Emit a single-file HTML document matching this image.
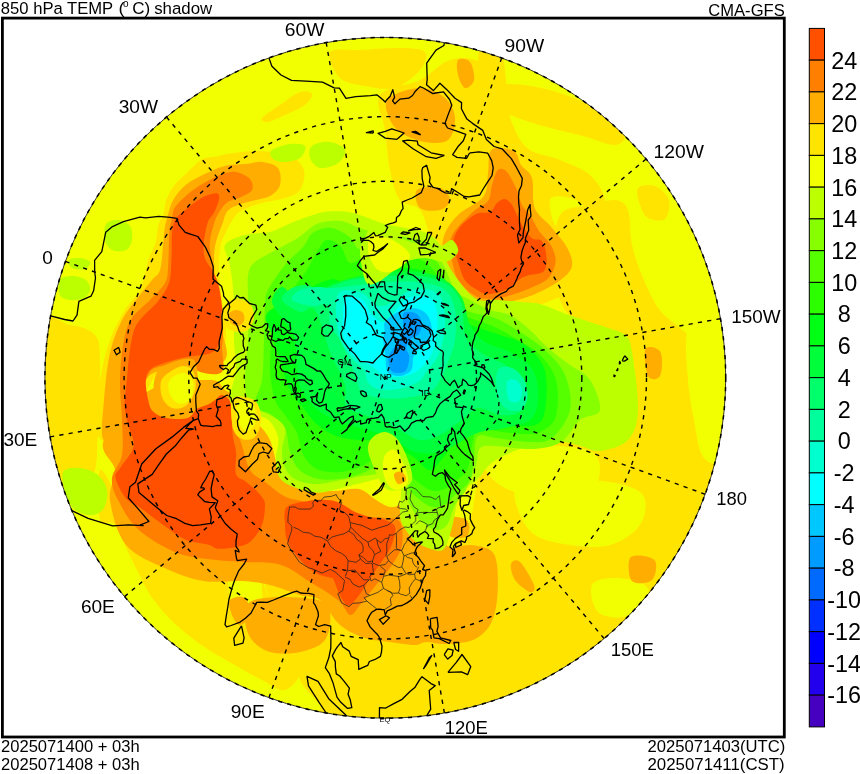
<!DOCTYPE html><html><head><meta charset="utf-8"><style>html,body{margin:0;padding:0;background:#fff;width:860px;height:774px;overflow:hidden}</style></head><body><svg width="860" height="774" viewBox="0 0 860 774" style="position:absolute;left:0;top:0">
<defs><clipPath id="cc"><circle cx="385.3" cy="377.8" r="340.4"/></clipPath></defs>
<g clip-path="url(#cc)">
<circle cx="385.3" cy="377.8" r="342.4" fill="#F2FF00"/>
<path d="M230.0,556.0 C222.7,555.2 249.3,552.7 256.0,560.0 C262.7,567.3 264.3,586.7 270.0,600.0 C275.7,613.3 285.0,626.7 290.0,640.0 C295.0,653.3 295.0,669.2 300.0,680.0 C305.0,690.8 312.5,695.0 320.0,705.0 C327.5,715.0 271.7,734.2 345.0,740.0 C418.3,745.8 690.8,785.0 760.0,740.0 C829.2,695.0 764.2,515.8 760.0,470.0 C755.8,424.2 741.7,470.0 735.0,465.0 C728.3,460.0 725.8,447.5 720.0,440.0 C714.2,432.5 705.0,430.0 700.0,420.0 C695.0,410.0 695.8,392.5 690.0,380.0 C684.2,367.5 673.3,354.2 665.0,345.0 C656.7,335.8 648.8,326.2 640.0,325.0 C631.2,323.8 620.7,333.5 612.0,338.0 C603.3,342.5 595.8,345.0 588.0,352.0 C580.2,359.0 571.3,368.7 565.0,380.0 C558.7,391.3 550.8,410.0 550.0,420.0 C549.2,430.0 551.7,435.0 560.0,440.0 C568.3,445.0 596.5,449.0 600.0,450.0 C603.5,451.0 588.5,447.5 581.0,446.0 C573.5,444.5 563.7,441.0 555.0,441.0 C546.3,441.0 536.8,443.8 529.0,446.0 C521.2,448.2 514.5,451.0 508.0,454.0 C501.5,457.0 495.0,459.7 490.0,464.0 C485.0,468.3 481.3,470.7 478.0,480.0 C474.7,489.3 474.5,508.3 470.0,520.0 C465.5,531.7 457.7,543.3 451.0,550.0 C444.3,556.7 438.5,558.3 430.0,560.0 C421.5,561.7 408.3,559.2 400.0,560.0 C391.7,560.8 396.7,564.2 380.0,565.0 C363.3,565.8 325.0,566.5 300.0,565.0 C275.0,563.5 237.3,556.8 230.0,556.0Z" fill="#FFE400"/>
<path d="M100.0,470.0 C96.7,473.3 97.7,511.0 100.0,520.0 C102.3,529.0 109.2,518.3 114.0,524.0 C118.8,529.7 124.5,545.0 129.0,554.0 C133.5,563.0 137.0,570.5 141.0,578.0 C145.0,585.5 147.5,591.5 153.0,599.0 C158.5,606.5 165.7,615.2 174.0,623.0 C182.3,630.8 193.2,639.2 203.0,646.0 C212.8,652.8 223.2,658.3 233.0,664.0 C242.8,669.7 253.3,675.7 262.0,680.0 C270.7,684.3 278.7,691.7 285.0,690.0 C291.3,688.3 300.0,680.0 300.0,670.0 C300.0,660.0 290.0,641.7 285.0,630.0 C280.0,618.3 274.8,610.0 270.0,600.0 C265.2,590.0 262.7,577.5 256.0,570.0 C249.3,562.5 243.2,557.5 230.0,555.0 C216.8,552.5 192.0,559.2 177.0,555.0 C162.0,550.8 149.5,539.2 140.0,530.0 C130.5,520.8 126.7,510.0 120.0,500.0 C113.3,490.0 103.3,466.7 100.0,470.0Z" fill="#FFE400"/>
<path d="M583.0,272.0 C587.2,265.0 600.5,265.0 610.0,268.0 C619.5,271.0 631.7,281.3 640.0,290.0 C648.3,298.7 651.7,311.7 660.0,320.0 C668.3,328.3 680.8,333.3 690.0,340.0 C699.2,346.7 708.3,353.3 715.0,360.0 C721.7,366.7 725.8,360.0 730.0,380.0 C734.2,400.0 745.0,465.0 740.0,480.0 C735.0,495.0 713.3,475.0 700.0,470.0 C686.7,465.0 670.0,458.3 660.0,450.0 C650.0,441.7 645.0,431.7 640.0,420.0 C635.0,408.3 632.5,392.5 630.0,380.0 C627.5,367.5 630.0,352.5 625.0,345.0 C620.0,337.5 606.7,340.8 600.0,335.0 C593.3,329.2 587.8,320.5 585.0,310.0 C582.2,299.5 578.8,279.0 583.0,272.0Z" fill="#FFE400"/>
<path d="M501.0,85.0 C509.3,82.0 533.7,85.8 550.0,90.0 C566.3,94.2 586.7,102.8 599.0,110.0 C611.3,117.2 621.3,127.2 624.0,133.0 C626.7,138.8 621.8,144.5 615.0,145.0 C608.2,145.5 593.8,138.8 583.0,136.0 C572.2,133.2 560.8,131.0 550.0,128.0 C539.2,125.0 526.3,121.3 518.0,118.0 C509.7,114.7 502.8,113.5 500.0,108.0 C497.2,102.5 492.7,88.0 501.0,85.0Z" fill="#FFE400"/>
<path d="M480.0,50.0 C483.3,45.3 495.7,47.0 500.0,52.0 C504.3,57.0 505.0,69.2 506.0,80.0 C507.0,90.8 508.7,112.0 506.0,117.0 C503.3,122.0 494.3,116.2 490.0,110.0 C485.7,103.8 481.7,90.0 480.0,80.0 C478.3,70.0 476.7,54.7 480.0,50.0Z" fill="#FFE400"/>
<path d="M380.0,95.0 C385.8,86.7 408.3,85.8 420.0,80.0 C431.7,74.2 440.0,63.0 450.0,60.0 C460.0,57.0 471.7,57.0 480.0,62.0 C488.3,67.0 494.2,78.7 500.0,90.0 C505.8,101.3 510.0,120.0 515.0,130.0 C520.0,140.0 522.5,145.0 530.0,150.0 C537.5,155.0 550.0,155.8 560.0,160.0 C570.0,164.2 582.5,168.3 590.0,175.0 C597.5,181.7 603.3,190.8 605.0,200.0 C606.7,209.2 602.2,220.0 600.0,230.0 C597.8,240.0 593.7,251.7 592.0,260.0 C590.3,268.3 593.7,274.7 590.0,280.0 C586.3,285.3 578.3,287.8 570.0,292.0 C561.7,296.2 550.0,301.3 540.0,305.0 C530.0,308.7 520.7,313.5 510.0,314.0 C499.3,314.5 486.0,311.7 476.0,308.0 C466.0,304.3 457.3,298.3 450.0,292.0 C442.7,285.7 435.3,278.7 432.0,270.0 C428.7,261.3 432.0,250.0 430.0,240.0 C428.0,230.0 425.0,216.7 420.0,210.0 C415.0,203.3 405.0,206.7 400.0,200.0 C395.0,193.3 392.5,181.7 390.0,170.0 C387.5,158.3 386.7,142.5 385.0,130.0 C383.3,117.5 374.2,103.3 380.0,95.0Z" fill="#FFE400"/>
<path d="M330.0,52.0 C333.3,47.3 348.3,50.7 360.0,50.0 C371.7,49.3 389.2,47.7 400.0,48.0 C410.8,48.3 421.7,48.3 425.0,52.0 C428.3,55.7 425.0,64.0 420.0,70.0 C415.0,76.0 404.2,85.3 395.0,88.0 C385.8,90.7 374.2,87.7 365.0,86.0 C355.8,84.3 345.8,83.7 340.0,78.0 C334.2,72.3 326.7,56.7 330.0,52.0Z" fill="#FFE400"/>
<path d="M40.0,330.0 C45.0,304.2 60.8,324.2 70.0,325.0 C79.2,325.8 90.0,329.2 95.0,335.0 C100.0,340.8 99.5,345.8 100.0,360.0 C100.5,374.2 98.8,401.7 98.0,420.0 C97.2,438.3 98.0,460.0 95.0,470.0 C92.0,480.0 89.2,478.3 80.0,480.0 C70.8,481.7 46.7,505.0 40.0,480.0 C33.3,455.0 35.0,355.8 40.0,330.0Z" fill="#FFE400"/>
<path d="M146.0,270.0 C147.5,264.7 147.4,262.5 149.0,258.0 C150.6,253.5 153.9,248.7 155.5,243.0 C157.1,237.3 157.3,228.7 158.6,224.0 C159.9,219.3 162.0,219.1 163.3,215.0 C164.6,210.9 164.6,204.5 166.4,199.6 C168.2,194.7 170.7,190.1 174.0,185.7 C177.3,181.3 181.8,177.7 186.5,173.3 C191.2,168.9 196.8,162.2 202.0,159.3 C207.2,156.5 212.3,157.2 217.5,156.2 C222.7,155.1 225.9,153.9 233.0,153.0 C240.1,152.1 250.5,150.5 260.0,151.0 C269.5,151.5 282.7,152.8 290.0,156.0 C297.3,159.2 302.3,164.3 304.0,170.0 C305.7,175.7 303.2,185.3 300.0,190.0 C296.8,194.7 291.3,195.8 285.0,198.0 C278.7,200.2 268.6,201.2 262.0,203.0 C255.4,204.8 249.7,207.0 245.4,209.0 C241.1,211.0 239.1,211.4 236.0,215.0 C232.9,218.6 229.4,225.4 226.8,230.6 C224.2,235.8 221.9,239.4 220.6,246.0 C219.3,252.6 218.8,261.0 219.0,270.0 C219.2,279.0 220.8,290.0 222.0,300.0 C223.2,310.0 226.0,321.7 226.0,330.0 C226.0,338.3 226.3,345.0 222.0,350.0 C217.7,355.0 210.3,356.7 200.0,360.0 C189.7,363.3 173.3,356.7 160.0,370.0 C146.7,383.3 130.8,430.0 120.0,440.0 C109.2,450.0 98.3,440.0 95.0,430.0 C91.7,420.0 97.5,395.0 100.0,380.0 C102.5,365.0 105.8,351.7 110.0,340.0 C114.2,328.3 120.0,318.3 125.0,310.0 C130.0,301.7 136.5,296.7 140.0,290.0 C143.5,283.3 144.5,275.3 146.0,270.0Z" fill="#FFE400"/>
<path d="M518.0,485.0 C525.0,480.0 544.7,480.5 560.0,480.0 C575.3,479.5 596.2,479.5 610.0,482.0 C623.8,484.5 638.0,487.8 643.0,495.0 C648.0,502.2 645.5,516.7 640.0,525.0 C634.5,533.3 621.7,541.7 610.0,545.0 C598.3,548.3 582.5,546.7 570.0,545.0 C557.5,543.3 543.7,540.8 535.0,535.0 C526.3,529.2 520.8,518.3 518.0,510.0 C515.2,501.7 511.0,490.0 518.0,485.0Z" fill="#F2FF00"/>
<path d="M592.0,585.0 C594.8,579.3 606.2,578.0 615.0,578.0 C623.8,578.0 639.5,580.5 645.0,585.0 C650.5,589.5 651.3,599.7 648.0,605.0 C644.7,610.3 633.3,615.8 625.0,617.0 C616.7,618.2 603.5,617.3 598.0,612.0 C592.5,606.7 589.2,590.7 592.0,585.0Z" fill="#F2FF00"/>
<path d="M482.0,450.0 C487.5,445.7 507.0,446.7 520.0,446.0 C533.0,445.3 548.0,445.0 560.0,446.0 C572.0,447.0 585.3,448.0 592.0,452.0 C598.7,456.0 600.0,463.3 600.0,470.0 C600.0,476.7 597.8,486.7 592.0,492.0 C586.2,497.3 574.5,501.2 565.0,502.0 C555.5,502.8 545.0,499.3 535.0,497.0 C525.0,494.7 513.0,492.2 505.0,488.0 C497.0,483.8 490.8,478.3 487.0,472.0 C483.2,465.7 476.5,454.3 482.0,450.0Z" fill="#F2FF00"/>
<path d="M359.0,489.0 C363.2,485.7 376.0,490.2 385.0,492.0 C394.0,493.8 408.3,496.0 413.0,500.0 C417.7,504.0 416.8,513.0 413.0,516.0 C409.2,519.0 398.8,518.7 390.0,518.0 C381.2,517.3 365.2,516.8 360.0,512.0 C354.8,507.2 354.8,492.3 359.0,489.0Z" fill="#F2FF00"/>
<path d="M230.0,556.0 C234.3,549.3 250.7,554.3 256.0,560.0 C261.3,565.7 261.3,579.8 262.0,590.0 C262.7,600.2 263.7,615.8 260.0,621.0 C256.3,626.2 245.0,624.5 240.0,621.0 C235.0,617.5 231.7,610.8 230.0,600.0 C228.3,589.2 225.7,562.7 230.0,556.0Z" fill="#F2FF00"/>
<path d="M550.0,200.0 C551.5,195.2 559.7,196.3 565.0,197.0 C570.3,197.7 578.7,200.2 582.0,204.0 C585.3,207.8 586.2,216.0 585.0,220.0 C583.8,224.0 579.8,227.0 575.0,228.0 C570.2,229.0 560.2,230.7 556.0,226.0 C551.8,221.3 548.5,204.8 550.0,200.0Z" fill="#F2FF00"/>
<path d="M560.0,215.0 C565.8,205.8 580.8,207.5 590.0,205.0 C599.2,202.5 608.7,199.2 615.0,200.0 C621.3,200.8 625.2,202.5 628.0,210.0 C630.8,217.5 629.5,233.7 632.0,245.0 C634.5,256.3 638.5,267.3 643.0,278.0 C647.5,288.7 652.8,300.7 659.0,309.0 C665.2,317.3 673.2,322.0 680.0,328.0 C686.8,334.0 698.3,339.7 700.0,345.0 C701.7,350.3 697.5,359.2 690.0,360.0 C682.5,360.8 665.0,352.5 655.0,350.0 C645.0,347.5 639.2,347.5 630.0,345.0 C620.8,342.5 609.2,339.2 600.0,335.0 C590.8,330.8 581.7,325.8 575.0,320.0 C568.3,314.2 563.3,310.0 560.0,300.0 C556.7,290.0 555.0,274.2 555.0,260.0 C555.0,245.8 554.2,224.2 560.0,215.0Z" fill="#FFE400"/>
<path d="M638.0,188.0 C640.5,184.8 649.8,184.0 655.0,186.0 C660.2,188.0 667.3,194.5 669.0,200.0 C670.7,205.5 668.5,216.0 665.0,219.0 C661.5,222.0 652.2,220.3 648.0,218.0 C643.8,215.7 641.7,210.0 640.0,205.0 C638.3,200.0 635.5,191.2 638.0,188.0Z" fill="#FFE400"/>
<path d="M688.0,330.0 C692.0,322.5 705.3,328.3 712.0,335.0 C718.7,341.7 725.3,354.2 728.0,370.0 C730.7,385.8 729.7,414.7 728.0,430.0 C726.3,445.3 722.3,457.8 718.0,462.0 C713.7,466.2 706.0,462.0 702.0,455.0 C698.0,448.0 696.3,432.5 694.0,420.0 C691.7,407.5 689.0,395.0 688.0,380.0 C687.0,365.0 684.0,337.5 688.0,330.0Z" fill="#F2FF00"/>
<path d="M160.0,270.0 C161.9,263.8 162.5,250.1 163.3,243.0 C164.1,235.9 164.0,232.2 164.8,227.5 C165.6,222.8 166.6,219.4 167.9,215.0 C169.2,210.6 170.5,205.3 172.6,201.2 C174.7,197.1 177.2,193.7 180.3,190.3 C183.4,186.9 186.3,184.1 191.2,181.0 C196.1,177.9 203.9,174.3 209.8,171.7 C215.7,169.1 220.9,166.8 226.8,165.5 C232.7,164.2 239.5,164.6 245.4,164.0 C251.3,163.4 256.6,161.3 262.0,162.0 C267.4,162.7 275.0,164.2 278.0,168.0 C281.0,171.8 281.3,180.3 280.0,185.0 C278.7,189.7 274.7,193.3 270.0,196.0 C265.3,198.7 257.3,199.4 251.6,201.0 C245.9,202.6 240.1,204.0 236.0,205.8 C231.9,207.6 229.1,208.9 226.8,212.0 C224.5,215.1 223.8,220.3 222.2,224.4 C220.6,228.5 218.8,232.4 217.5,236.8 C216.2,241.2 214.9,245.3 214.4,250.8 C213.9,256.3 213.8,261.8 214.4,270.0 C215.0,278.2 216.7,290.0 218.0,300.0 C219.3,310.0 220.8,320.0 222.0,330.0 C223.2,340.0 230.3,353.0 225.0,360.0 C219.7,367.0 202.5,369.5 190.0,372.0 C177.5,374.5 160.0,367.0 150.0,375.0 C140.0,383.0 137.7,409.2 130.0,420.0 C122.3,430.8 108.3,443.3 104.0,440.0 C99.7,436.7 103.0,414.5 104.0,400.0 C105.0,385.5 107.0,366.3 110.0,353.0 C113.0,339.7 117.0,329.7 122.0,320.0 C127.0,310.3 135.0,301.7 140.0,295.0 C145.0,288.3 148.7,284.2 152.0,280.0 C155.3,275.8 158.1,276.2 160.0,270.0Z" fill="#FFAD00"/>
<path d="M104.0,440.0 C98.2,453.3 114.0,460.0 115.0,470.0 C116.0,480.0 108.2,487.6 110.0,500.0 C111.8,512.5 116.7,533.4 125.8,544.7 C134.9,556.0 151.7,562.0 164.6,568.0 C177.5,574.0 190.5,578.8 203.4,581.0 C216.3,583.2 230.9,580.3 242.0,581.0 C253.1,581.7 260.3,582.7 270.0,585.0 C279.7,587.3 291.7,592.5 300.0,595.0 C308.3,597.5 313.3,595.0 320.0,600.0 C326.7,605.0 332.5,618.7 340.0,625.0 C347.5,631.3 356.7,635.2 365.0,638.0 C373.3,640.8 381.7,640.8 390.0,642.0 C398.3,643.2 409.0,645.0 415.0,645.0 C421.0,645.0 421.0,642.2 426.0,642.0 C431.0,641.8 437.2,644.3 445.0,644.0 C452.8,643.7 465.5,643.2 473.0,640.0 C480.5,636.8 486.0,631.7 490.0,625.0 C494.0,618.3 495.8,610.0 497.0,600.0 C498.2,590.0 498.2,573.3 497.0,565.0 C495.8,556.7 494.5,553.3 490.0,550.0 C485.5,546.7 476.7,545.5 470.0,545.0 C463.3,544.5 455.3,548.7 450.0,547.0 C444.7,545.3 441.7,539.5 438.0,535.0 C434.3,530.5 432.7,524.5 428.0,520.0 C423.3,515.5 413.8,510.7 410.0,508.0 C406.2,505.3 408.3,504.2 405.0,504.0 C401.7,503.8 395.1,507.8 390.0,507.0 C384.9,506.2 379.9,502.0 374.7,499.0 C369.5,496.0 365.9,490.3 359.0,489.0 C352.1,487.7 341.6,491.0 333.0,491.0 C324.4,491.0 316.1,491.5 307.5,489.0 C298.9,486.5 287.9,484.2 281.7,476.0 C275.4,467.8 274.4,449.3 270.0,440.0 C265.6,430.7 260.0,426.7 255.0,420.0 C250.0,413.3 245.0,405.0 240.0,400.0 C235.0,395.0 230.0,393.3 225.0,390.0 C220.0,386.7 222.5,380.0 210.0,380.0 C197.5,380.0 167.7,380.0 150.0,390.0 C132.3,400.0 109.8,426.7 104.0,440.0Z" fill="#FFAD00"/>
<path d="M389.0,98.0 C394.3,93.5 410.7,88.0 420.0,88.0 C429.3,88.0 439.2,93.0 445.0,98.0 C450.8,103.0 454.5,111.0 455.0,118.0 C455.5,125.0 453.0,136.0 448.0,140.0 C443.0,144.0 433.0,143.3 425.0,142.0 C417.0,140.7 406.2,136.5 400.0,132.0 C393.8,127.5 389.8,120.7 388.0,115.0 C386.2,109.3 383.7,102.5 389.0,98.0Z" fill="#FFAD00"/>
<path d="M417.0,190.0 C420.3,186.7 434.5,186.3 440.0,188.0 C445.5,189.7 450.0,196.3 450.0,200.0 C450.0,203.7 445.0,208.7 440.0,210.0 C435.0,211.3 423.8,211.3 420.0,208.0 C416.2,204.7 413.7,193.3 417.0,190.0Z" fill="#FFAD00"/>
<path d="M458.0,60.0 C460.0,57.8 467.3,58.7 470.0,62.0 C472.7,65.3 474.8,75.7 474.0,80.0 C473.2,84.3 467.7,88.8 465.0,88.0 C462.3,87.2 459.2,79.7 458.0,75.0 C456.8,70.3 456.0,62.2 458.0,60.0Z" fill="#FFAD00"/>
<path d="M446.5,518.0 C449.3,515.3 463.6,517.0 467.0,520.0 C470.4,523.0 469.8,533.3 467.0,536.0 C464.2,538.7 453.4,539.0 450.0,536.0 C446.6,533.0 443.7,520.7 446.5,518.0Z" fill="#FFAD00"/>
<path d="M511.0,564.0 C511.8,561.0 516.2,558.5 520.0,562.0 C523.8,565.5 532.3,580.0 534.0,585.0 C535.7,590.0 533.2,592.8 530.0,592.0 C526.8,591.2 518.2,584.7 515.0,580.0 C511.8,575.3 510.2,567.0 511.0,564.0Z" fill="#FFAD00"/>
<path d="M444.0,236.0 C446.3,229.0 451.4,221.6 458.0,215.0 C464.6,208.4 478.5,203.5 483.5,196.5 C488.5,189.5 486.9,180.4 488.0,173.0 C489.1,165.6 488.0,156.2 490.0,152.0 C492.0,147.8 495.8,148.0 500.0,148.0 C504.2,148.0 511.5,149.2 515.0,152.0 C518.5,154.8 518.2,160.7 521.0,165.0 C523.8,169.3 529.7,170.8 532.0,178.0 C534.3,185.2 531.5,199.9 534.7,208.0 C537.9,216.1 545.6,220.1 551.0,226.7 C556.4,233.3 563.7,241.1 567.2,247.7 C570.7,254.3 573.1,260.9 571.9,266.3 C570.7,271.7 566.4,275.6 560.2,280.2 C554.0,284.8 542.8,290.7 534.7,294.2 C526.6,297.7 519.2,299.6 511.4,301.2 C503.6,302.8 495.0,303.9 488.0,303.5 C481.0,303.1 475.3,302.7 469.5,298.8 C463.7,294.9 457.6,287.2 453.3,280.2 C449.1,273.2 445.6,264.4 444.0,257.0 C442.4,249.6 441.7,243.0 444.0,236.0Z" fill="#FFAD00"/>
<path d="M250.0,602.0 C255.8,598.2 268.7,597.3 280.0,597.0 C291.3,596.7 309.7,597.5 318.0,600.0 C326.3,602.5 328.8,605.3 330.0,612.0 C331.2,618.7 330.0,633.3 325.0,640.0 C320.0,646.7 309.2,650.0 300.0,652.0 C290.8,654.0 278.0,654.0 270.0,652.0 C262.0,650.0 256.2,645.3 252.0,640.0 C247.8,634.7 245.3,626.3 245.0,620.0 C244.7,613.7 244.2,605.8 250.0,602.0Z" fill="#FFAD00"/>
<path d="M230.0,600.0 C232.2,597.2 241.7,595.5 245.0,598.0 C248.3,600.5 250.8,610.5 250.0,615.0 C249.2,619.5 243.0,625.0 240.0,625.0 C237.0,625.0 233.7,619.2 232.0,615.0 C230.3,610.8 227.8,602.8 230.0,600.0Z" fill="#FFAD00"/>
<path d="M645.6,349.0 C647.7,345.0 658.1,347.5 660.5,352.0 C662.9,356.5 662.1,372.0 660.0,376.0 C657.9,380.0 650.4,380.5 648.0,376.0 C645.6,371.5 643.5,353.0 645.6,349.0Z" fill="#FFAD00"/>
<path d="M630.8,557.0 C634.5,553.5 651.0,556.2 654.5,560.0 C658.0,563.8 655.8,576.5 652.0,580.0 C648.2,583.5 635.5,584.8 632.0,581.0 C628.5,577.2 627.0,560.5 630.8,557.0Z" fill="#FFAD00"/>
<path d="M222.0,174.0 C227.2,172.2 231.3,171.2 236.0,172.0 C240.7,172.8 247.3,176.0 250.0,179.0 C252.7,182.0 253.5,187.0 252.0,190.0 C250.5,193.0 245.2,194.9 241.0,197.0 C236.8,199.1 230.7,199.7 226.8,202.7 C222.9,205.7 219.8,210.9 217.5,215.0 C215.2,219.1 214.2,222.8 212.9,227.5 C211.6,232.2 210.1,237.8 209.8,243.0 C209.5,248.2 210.6,252.9 211.3,258.5 C212.0,264.1 212.7,269.8 214.0,276.7 C215.3,283.6 217.5,291.1 219.0,300.0 C220.5,308.9 222.5,322.0 223.0,330.0 C223.5,338.0 222.2,341.0 222.0,348.0 C221.8,355.0 225.7,368.0 222.0,372.0 C218.3,376.0 205.8,374.0 200.0,372.0 C194.2,370.0 192.7,361.2 187.0,360.0 C181.3,358.8 172.2,363.0 166.0,365.0 C159.8,367.0 153.8,367.0 150.0,372.0 C146.2,377.0 143.0,388.3 143.0,395.0 C143.0,401.7 145.8,407.8 150.0,412.0 C154.2,416.2 161.3,418.7 168.0,420.0 C174.7,421.3 183.0,422.7 190.0,420.0 C197.0,417.3 204.5,405.7 210.0,404.0 C215.5,402.3 219.7,406.5 223.0,410.0 C226.3,413.5 227.2,420.0 230.0,425.0 C232.8,430.0 236.7,432.5 240.0,440.0 C243.3,447.5 245.8,463.0 250.0,470.0 C254.2,477.0 259.0,477.5 265.0,482.0 C271.0,486.5 278.9,493.7 286.0,497.0 C293.1,500.3 300.5,500.3 307.5,502.0 C314.5,503.7 322.2,505.0 328.2,507.2 C334.2,509.4 337.7,513.3 343.7,515.0 C349.7,516.7 357.5,517.0 364.4,517.5 C371.3,518.0 379.1,517.2 385.0,518.0 C390.9,518.8 397.2,517.5 400.0,522.0 C402.8,526.5 403.3,537.8 402.0,545.0 C400.7,552.2 397.0,557.5 392.0,565.0 C387.0,572.5 377.3,583.3 372.0,590.0 C366.7,596.7 363.7,600.8 360.0,605.0 C356.3,609.2 353.7,615.8 350.0,615.0 C346.3,614.2 344.7,605.5 338.0,600.0 C331.3,594.5 319.5,587.8 310.0,582.0 C300.5,576.2 291.9,568.3 281.0,565.0 C270.1,561.7 255.5,562.8 244.7,562.0 C233.9,561.2 227.5,561.5 216.3,560.0 C205.1,558.5 190.4,558.0 177.5,553.0 C164.6,548.0 148.7,538.8 138.8,530.0 C128.9,521.2 122.5,508.7 118.0,500.0 C113.5,491.3 111.3,485.5 112.0,478.0 C112.7,470.5 120.3,464.7 122.0,455.0 C123.7,445.3 122.3,432.5 122.0,420.0 C121.7,407.5 119.7,393.3 120.0,380.0 C120.3,366.7 122.0,350.3 124.0,340.0 C126.0,329.7 127.7,324.7 132.0,318.0 C136.3,311.3 144.5,305.8 150.0,300.0 C155.5,294.2 162.0,288.0 165.0,283.0 C168.0,278.0 167.3,275.4 167.9,270.0 C168.5,264.6 168.4,257.4 168.7,250.8 C169.0,244.2 169.0,236.0 169.5,230.6 C170.0,225.2 171.1,221.8 171.8,218.2 C172.6,214.6 172.3,212.1 174.0,209.0 C175.7,205.9 178.8,202.7 181.9,199.6 C185.0,196.5 188.8,193.1 192.7,190.3 C196.5,187.5 200.1,185.3 205.0,182.6 C209.9,179.9 216.8,175.8 222.0,174.0Z" fill="#FF8000"/>
<path d="M451.0,238.0 C454.1,229.1 465.7,219.0 471.9,212.8 C478.1,206.6 484.6,205.6 488.0,201.0 C491.4,196.4 490.3,190.2 492.0,185.0 C493.7,179.8 495.5,172.2 498.0,170.0 C500.5,167.8 504.0,169.0 507.0,172.0 C510.0,175.0 513.5,182.5 516.0,188.0 C518.5,193.5 519.7,200.5 522.0,205.0 C524.3,209.5 527.1,210.6 530.0,215.0 C532.9,219.4 535.8,226.3 539.3,231.4 C542.8,236.5 548.3,240.3 551.0,245.3 C553.7,250.3 556.0,256.2 555.6,261.6 C555.2,267.1 552.5,273.7 548.6,278.0 C544.7,282.3 538.1,284.5 532.3,287.2 C526.5,289.9 519.9,292.3 513.7,294.2 C507.5,296.1 501.2,298.4 495.0,298.8 C488.8,299.2 482.3,299.2 476.5,296.5 C470.7,293.8 464.1,287.6 460.2,282.6 C456.3,277.6 454.8,273.7 453.3,266.3 C451.8,258.9 447.9,246.9 451.0,238.0Z" fill="#FF8000"/>
<path d="M208.2,195.0 C211.3,194.0 215.7,192.6 217.5,193.4 C219.3,194.2 219.5,196.5 219.0,199.6 C218.5,202.7 216.2,208.4 214.4,212.0 C212.6,215.6 209.8,217.7 208.2,221.3 C206.6,224.9 205.9,229.6 205.1,233.7 C204.3,237.8 203.6,241.9 203.6,246.0 C203.6,250.1 203.6,254.5 205.0,258.5 C206.4,262.5 209.8,265.9 212.0,270.0 C214.2,274.1 216.3,277.0 218.0,283.0 C219.7,289.0 221.3,298.2 222.0,306.0 C222.7,313.8 222.7,323.1 222.0,329.8 C221.3,336.5 219.8,342.1 217.9,346.0 C216.1,349.9 214.0,351.4 210.9,353.0 C207.8,354.6 204.0,354.5 199.3,355.3 C194.7,356.1 188.4,356.5 183.0,357.7 C177.6,358.9 172.1,360.4 166.7,362.3 C161.3,364.2 154.0,366.2 150.5,369.3 C147.0,372.4 146.2,376.0 145.8,381.0 C145.4,386.0 146.9,394.5 148.1,399.5 C149.3,404.5 149.7,408.1 152.8,411.2 C155.9,414.3 160.9,416.9 166.7,418.0 C172.5,419.1 182.6,419.5 187.7,418.0 C192.8,416.5 193.5,411.1 197.0,408.8 C200.5,406.5 205.5,405.8 208.6,404.2 C211.7,402.6 213.4,401.0 215.6,399.5 C217.8,398.0 219.5,394.3 222.0,395.0 C224.5,395.7 228.9,397.0 230.7,403.5 C232.5,410.0 231.7,425.9 232.6,434.0 C233.5,442.1 235.4,445.3 236.0,452.0 C236.6,458.7 234.5,469.2 236.0,474.0 C237.5,478.8 242.0,478.6 245.0,481.0 C248.0,483.4 251.2,485.8 254.0,488.5 C256.8,491.2 260.2,494.2 262.0,497.0 C263.8,499.8 265.0,500.3 265.0,505.0 C265.0,509.7 264.4,518.9 262.0,525.0 C259.6,531.1 254.9,537.8 250.6,541.5 C246.3,545.2 241.6,545.8 236.2,547.0 C230.8,548.2 222.6,549.1 218.0,548.7 C213.4,548.3 213.9,546.2 208.5,544.7 C203.1,543.2 193.1,543.0 185.3,539.5 C177.6,536.0 169.3,529.2 162.0,524.0 C154.7,518.8 147.3,512.8 141.3,508.5 C135.3,504.2 130.1,503.4 125.8,498.2 C121.5,493.0 116.3,482.7 115.5,477.5 C114.7,472.3 117.7,472.4 120.7,467.2 C123.7,462.0 132.3,453.4 133.6,446.5 C134.9,439.6 129.8,431.9 128.4,425.8 C127.0,419.7 125.5,414.4 124.9,410.0 C124.3,405.6 124.5,405.1 124.9,399.5 C125.3,393.9 126.4,384.1 127.2,376.3 C128.0,368.6 128.3,360.8 129.5,353.0 C130.7,345.2 131.9,336.0 134.2,329.8 C136.5,323.6 139.6,320.5 143.5,315.8 C147.4,311.1 153.2,307.4 157.4,301.9 C161.7,296.4 166.7,290.0 169.0,283.0 C171.3,276.0 170.9,267.7 171.4,260.0 C171.9,252.3 171.5,242.7 171.8,236.8 C172.1,230.9 172.4,227.8 173.3,224.4 C174.2,221.1 175.0,219.3 177.2,216.7 C179.4,214.1 182.9,211.8 186.5,209.0 C190.1,206.2 195.3,201.9 198.9,199.6 C202.5,197.3 205.1,196.0 208.2,195.0Z" fill="#FF5000"/>
<path d="M286.8,507.0 C290.7,503.0 301.9,502.2 308.5,501.0 C315.1,499.8 321.4,499.7 326.6,500.0 C331.9,500.3 335.3,501.0 340.0,503.0 C344.7,505.0 350.0,509.7 355.0,512.0 C360.0,514.3 365.0,515.7 370.0,517.0 C375.0,518.3 380.8,518.2 385.0,520.0 C389.2,521.8 394.5,523.1 395.4,527.9 C396.3,532.6 392.8,542.5 390.2,548.5 C387.6,554.5 383.3,558.8 379.9,564.0 C376.4,569.2 372.9,574.3 369.5,579.5 C366.1,584.7 362.6,590.7 359.2,595.0 C355.8,599.3 351.9,605.0 348.9,605.4 C345.9,605.8 343.6,601.9 341.0,597.6 C338.4,593.3 335.2,582.8 333.4,579.5 C331.6,576.2 332.6,578.6 330.0,577.7 C327.4,576.8 321.8,576.1 317.6,574.0 C313.4,571.9 308.9,568.6 305.0,565.0 C301.1,561.4 297.0,556.5 294.0,552.3 C291.0,548.1 288.3,544.2 286.8,539.7 C285.3,535.2 285.0,530.7 285.0,525.2 C285.0,519.8 282.9,511.0 286.8,507.0Z" fill="#FF5000"/>
<path d="M453.0,243.0 C453.4,237.2 456.2,231.8 460.0,227.0 C463.8,222.2 471.0,216.5 476.0,214.0 C481.0,211.5 486.5,213.8 490.0,212.0 C493.5,210.2 494.5,205.2 497.0,203.0 C499.5,200.8 502.5,198.7 505.0,199.0 C507.5,199.3 510.0,202.3 512.0,205.0 C514.0,207.7 515.2,211.4 517.0,215.0 C518.8,218.6 520.5,222.8 523.0,226.7 C525.5,230.6 529.2,236.1 532.3,238.4 C535.4,240.7 539.3,238.0 541.6,240.7 C543.9,243.4 545.9,249.6 546.3,254.7 C546.7,259.8 547.1,267.5 544.0,271.0 C540.9,274.5 532.0,274.1 527.7,275.6 C523.4,277.1 521.9,277.9 518.4,280.2 C514.9,282.5 511.8,287.2 506.7,289.5 C501.6,291.8 493.0,294.2 488.0,294.2 C483.0,294.2 480.4,291.8 476.5,289.5 C472.6,287.2 468.0,284.8 464.9,280.2 C461.8,275.6 459.9,267.8 457.9,261.6 C455.9,255.4 452.6,248.8 453.0,243.0Z" fill="#FF5000"/>
<path d="M262.0,118.0 C264.0,115.2 273.7,109.3 280.0,105.0 C286.3,100.7 294.7,93.8 300.0,92.0 C305.3,90.2 311.2,91.8 312.0,94.0 C312.8,96.2 309.5,101.5 305.0,105.0 C300.5,108.5 291.2,112.2 285.0,115.0 C278.8,117.8 271.8,121.5 268.0,122.0 C264.2,122.5 260.0,120.8 262.0,118.0Z" fill="#FFE400"/>
<path d="M272.0,150.0 C275.0,147.7 284.5,144.7 290.0,144.0 C295.5,143.3 303.3,143.7 305.0,146.0 C306.7,148.3 303.7,155.3 300.0,158.0 C296.3,160.7 287.7,162.0 283.0,162.0 C278.3,162.0 273.8,160.0 272.0,158.0 C270.2,156.0 269.0,152.3 272.0,150.0Z" fill="#BCFF00"/>
<path d="M312.0,146.0 C315.3,143.3 324.5,141.3 330.0,142.0 C335.5,142.7 343.7,146.5 345.0,150.0 C346.3,153.5 342.2,160.0 338.0,163.0 C333.8,166.0 324.7,168.8 320.0,168.0 C315.3,167.2 311.3,161.7 310.0,158.0 C308.7,154.3 308.7,148.7 312.0,146.0Z" fill="#BCFF00"/>
<path d="M60.0,280.0 C62.0,276.8 67.7,276.0 72.0,276.0 C76.3,276.0 83.0,277.7 86.0,280.0 C89.0,282.3 90.3,287.0 90.0,290.0 C89.7,293.0 87.3,296.3 84.0,298.0 C80.7,299.7 74.0,300.5 70.0,300.0 C66.0,299.5 61.7,298.3 60.0,295.0 C58.3,291.7 58.0,283.2 60.0,280.0Z" fill="#BCFF00"/>
<path d="M106.0,224.0 C108.2,220.7 114.0,219.7 118.0,220.0 C122.0,220.3 127.7,222.7 130.0,226.0 C132.3,229.3 132.7,236.0 132.0,240.0 C131.3,244.0 129.3,248.3 126.0,250.0 C122.7,251.7 115.5,251.7 112.0,250.0 C108.5,248.3 106.0,244.3 105.0,240.0 C104.0,235.7 103.8,227.3 106.0,224.0Z" fill="#BCFF00"/>
<path d="M63.0,472.0 C65.3,467.5 74.2,467.5 80.0,468.0 C85.8,468.5 93.5,471.3 98.0,475.0 C102.5,478.7 106.0,484.5 107.0,490.0 C108.0,495.5 106.5,503.8 104.0,508.0 C101.5,512.2 96.8,514.7 92.0,515.0 C87.2,515.3 79.3,513.3 75.0,510.0 C70.7,506.7 68.0,501.3 66.0,495.0 C64.0,488.7 60.7,476.5 63.0,472.0Z" fill="#BCFF00"/>
<path d="M69.0,260.0 C70.3,258.3 76.5,257.7 80.0,258.0 C83.5,258.3 89.2,260.2 90.0,262.0 C90.8,263.8 88.0,268.0 85.0,269.0 C82.0,270.0 74.7,269.5 72.0,268.0 C69.3,266.5 67.7,261.7 69.0,260.0Z" fill="#BCFF00"/>
<path d="M158.0,371.0 C161.5,366.4 168.6,363.6 174.4,361.6 C180.2,359.7 189.1,357.0 193.0,359.3 C196.9,361.6 196.9,369.8 197.7,375.6 C198.5,381.4 199.2,388.2 197.7,394.0 C196.1,399.8 193.1,407.4 188.4,410.5 C183.8,413.6 174.9,413.2 169.8,412.8 C164.7,412.4 160.7,411.9 158.0,408.0 C155.3,404.1 153.5,395.7 153.5,389.5 C153.5,383.3 154.5,375.6 158.0,371.0Z" fill="#FFAD00"/>
<path d="M165.0,375.6 C168.5,372.5 176.7,367.1 181.4,366.3 C186.1,365.5 190.7,367.1 193.0,371.0 C195.3,374.9 196.5,383.7 195.3,389.5 C194.1,395.3 189.9,402.7 186.0,405.8 C182.1,408.9 175.9,409.2 172.0,408.0 C168.1,406.8 164.7,402.7 162.8,398.8 C160.9,394.9 160.1,388.8 160.5,384.9 C160.9,381.0 161.5,378.7 165.0,375.6Z" fill="#FFE400"/>
<path d="M169.8,380.0 C172.1,376.5 179.8,372.6 183.7,373.0 C187.6,373.4 191.8,378.3 193.0,382.6 C194.2,386.9 193.0,395.3 190.7,398.8 C188.4,402.3 182.5,404.3 179.0,403.5 C175.5,402.7 171.3,397.9 169.8,394.0 C168.3,390.1 167.5,383.5 169.8,380.0Z" fill="#F2FF00"/>
<path d="M225.0,245.0 C227.5,240.0 237.5,237.2 245.0,235.0 C252.5,232.8 262.5,233.9 270.0,232.0 C277.5,230.1 283.4,226.1 289.8,223.5 C296.2,220.9 302.6,218.4 308.4,216.5 C314.2,214.6 318.1,212.7 324.7,211.9 C331.3,211.1 341.3,211.1 347.9,211.9 C354.5,212.7 358.4,214.6 364.2,216.5 C370.0,218.4 376.0,221.6 382.8,223.5 C389.6,225.4 397.4,226.3 405.0,228.0 C412.6,229.7 422.6,230.9 428.4,233.7 C434.2,236.5 437.4,241.1 440.0,245.0 C442.6,248.9 441.0,251.2 444.0,257.0 C447.0,262.8 452.6,273.0 458.0,280.0 C463.4,287.0 469.8,295.7 476.5,299.0 C483.2,302.3 490.8,299.5 498.0,300.0 C505.2,300.5 513.0,301.3 520.0,302.0 C527.0,302.7 532.3,302.0 540.0,304.0 C547.7,306.0 557.7,311.0 566.0,314.0 C574.3,317.0 583.5,319.8 590.0,322.0 C596.5,324.2 599.2,324.8 605.0,327.0 C610.8,329.2 620.5,330.8 625.0,335.0 C629.5,339.2 629.8,339.5 632.0,352.0 C634.2,364.5 638.7,395.3 638.0,410.0 C637.3,424.7 634.3,433.2 628.0,440.0 C621.7,446.8 607.8,450.0 600.0,451.0 C592.2,452.0 588.5,447.7 581.0,446.0 C573.5,444.3 563.7,441.0 555.0,441.0 C546.3,441.0 536.8,443.9 529.0,446.0 C521.2,448.1 514.9,450.6 508.5,453.6 C502.1,456.6 495.6,459.7 490.4,464.0 C485.2,468.3 482.6,474.2 477.5,479.4 C472.4,484.6 464.3,486.8 460.0,495.0 C455.7,503.2 454.4,519.5 451.7,528.5 C449.0,537.5 447.4,545.6 444.0,549.0 C440.6,552.4 435.8,550.3 431.0,549.0 C426.2,547.7 419.8,544.8 415.5,541.4 C411.2,538.0 407.6,532.9 405.0,528.5 C402.4,524.1 400.8,524.0 400.0,515.0 C399.2,505.9 403.7,480.2 400.0,474.2 C396.3,468.2 384.8,477.2 378.0,478.8 C371.2,480.4 365.7,482.0 359.5,483.5 C353.3,485.0 348.0,486.4 341.0,488.0 C334.0,489.6 325.1,492.8 317.7,492.8 C310.3,492.8 302.9,490.4 296.7,488.1 C290.5,485.8 284.0,483.5 280.5,478.8 C277.0,474.1 276.2,467.2 275.8,460.2 C275.4,453.2 279.6,444.0 278.0,437.0 C276.4,430.0 272.3,422.3 266.5,418.4 C260.7,414.5 249.4,416.8 243.3,413.7 C237.2,410.6 231.2,407.3 230.0,400.0 C228.8,392.7 235.3,380.0 236.0,370.0 C236.7,360.0 234.3,351.7 234.0,340.0 C233.7,328.3 234.7,312.5 234.0,300.0 C233.3,287.5 231.5,274.2 230.0,265.0 C228.5,255.8 222.5,250.0 225.0,245.0Z" fill="#BCFF00"/>
<path d="M250.0,268.0 C254.0,260.0 264.0,257.0 272.0,252.0 C280.0,247.0 290.4,242.8 298.0,238.0 C305.6,233.2 310.5,226.3 317.7,223.5 C324.9,220.7 334.0,220.2 341.0,221.0 C348.0,221.8 353.0,226.0 359.5,228.0 C366.0,230.0 371.6,231.3 380.0,233.0 C388.4,234.7 401.7,236.0 410.0,238.0 C418.3,240.0 424.2,240.0 430.0,245.0 C435.8,250.0 440.8,260.5 445.0,268.0 C449.2,275.5 450.8,284.7 455.0,290.0 C459.2,295.3 464.2,296.7 470.0,300.0 C475.8,303.3 483.3,307.5 490.0,310.0 C496.7,312.5 503.3,311.7 510.0,315.0 C516.7,318.3 523.7,324.5 530.0,330.0 C536.3,335.5 541.3,342.2 548.0,348.0 C554.7,353.8 563.0,359.7 570.0,365.0 C577.0,370.3 585.0,372.5 590.0,380.0 C595.0,387.5 601.7,403.3 600.0,410.0 C598.3,416.7 586.5,414.7 580.0,420.0 C573.5,425.3 568.8,437.2 561.0,442.0 C553.2,446.8 543.8,448.3 533.0,449.0 C522.2,449.7 504.8,446.2 496.0,446.0 C487.2,445.8 483.3,444.8 480.0,448.0 C476.7,451.2 478.3,458.0 476.0,465.0 C473.7,472.0 469.5,483.3 466.0,490.0 C462.5,496.7 458.2,499.2 455.0,505.0 C451.8,510.8 450.3,520.8 447.0,525.0 C443.7,529.2 439.5,530.8 435.0,530.0 C430.5,529.2 424.2,524.2 420.0,520.0 C415.8,515.8 412.5,510.0 410.0,505.0 C407.5,500.0 408.3,495.0 405.0,490.0 C401.7,485.0 395.8,477.5 390.0,475.0 C384.2,472.5 378.2,474.2 370.0,475.0 C361.8,475.8 349.7,478.5 341.0,480.0 C332.3,481.5 325.1,484.0 317.7,484.0 C310.3,484.0 302.1,482.7 296.7,480.0 C291.2,477.3 287.4,473.0 285.0,468.0 C282.6,463.0 282.0,456.7 282.0,450.0 C282.0,443.3 287.0,433.5 285.0,427.7 C283.0,421.9 275.8,418.8 270.0,415.0 C264.2,411.2 254.2,410.8 250.0,405.0 C245.8,399.2 245.3,390.8 245.0,380.0 C244.7,369.2 247.5,353.3 248.0,340.0 C248.5,326.7 247.7,312.0 248.0,300.0 C248.3,288.0 246.0,276.0 250.0,268.0Z" fill="#88FF00"/>
<path d="M268.0,290.0 C271.3,283.3 279.2,272.2 285.0,265.0 C290.8,257.8 298.3,252.4 303.0,247.0 C307.7,241.6 308.2,236.0 313.0,232.8 C317.8,229.6 325.4,227.2 331.6,228.0 C337.8,228.8 345.6,233.9 350.2,237.4 C354.8,240.9 354.5,248.1 359.5,249.0 C364.5,249.9 371.6,243.7 380.0,243.0 C388.4,242.3 401.3,243.0 410.0,245.0 C418.7,247.0 426.0,249.2 432.0,255.0 C438.0,260.8 442.7,272.0 446.0,280.0 C449.3,288.0 447.6,297.7 451.6,303.0 C455.6,308.3 462.8,309.5 470.0,312.0 C477.2,314.5 486.7,314.7 495.0,318.0 C503.3,321.3 511.7,326.7 520.0,332.0 C528.3,337.3 537.5,342.8 545.0,350.0 C552.5,357.2 560.8,365.0 565.0,375.0 C569.2,385.0 572.2,399.5 570.0,410.0 C567.8,420.5 558.8,432.7 552.0,438.0 C545.2,443.3 538.3,442.0 529.0,442.0 C519.7,442.0 504.5,439.0 496.0,438.0 C487.5,437.0 481.7,433.2 478.0,436.0 C474.3,438.8 475.3,447.7 474.0,455.0 C472.7,462.3 473.2,473.3 470.0,480.0 C466.8,486.7 459.3,490.8 455.0,495.0 C450.7,499.2 447.8,503.0 444.0,505.0 C440.2,507.0 436.0,507.8 432.0,507.0 C428.0,506.2 423.7,502.8 420.0,500.0 C416.3,497.2 413.3,495.0 410.0,490.0 C406.7,485.0 404.5,474.2 400.0,470.0 C395.5,465.8 389.6,464.2 382.8,464.9 C376.1,465.6 366.5,471.9 359.5,474.2 C352.5,476.5 348.0,478.0 341.0,478.8 C334.0,479.6 324.7,480.4 317.7,478.8 C310.7,477.2 303.6,474.1 299.0,469.5 C294.4,464.9 292.1,458.0 289.8,451.0 C287.5,444.0 288.0,433.7 285.0,427.7 C282.0,421.7 277.0,418.8 272.0,415.0 C267.0,411.2 256.7,410.8 255.0,405.0 C253.3,399.2 260.5,390.8 262.0,380.0 C263.5,369.2 263.5,352.5 264.0,340.0 C264.5,327.5 264.3,313.3 265.0,305.0 C265.7,296.7 264.7,296.7 268.0,290.0Z" fill="#55FF00"/>
<path d="M275.0,310.0 C278.3,302.5 286.5,297.0 292.0,290.0 C297.5,283.0 303.7,274.7 308.0,268.0 C312.3,261.3 314.8,254.7 318.0,250.0 C321.2,245.3 323.2,240.4 327.0,239.8 C330.8,239.2 337.1,242.8 341.0,246.7 C344.9,250.6 345.4,261.6 350.2,263.0 C355.0,264.4 361.7,256.3 370.0,255.0 C378.3,253.7 390.8,253.8 400.0,255.0 C409.2,256.2 418.3,257.8 425.0,262.0 C431.7,266.2 436.2,273.7 440.0,280.0 C443.8,286.3 444.2,294.2 448.0,300.0 C451.8,305.8 456.0,310.8 463.0,315.0 C470.0,319.2 481.3,321.2 490.0,325.0 C498.7,328.8 506.7,333.0 515.0,338.0 C523.3,343.0 533.2,348.0 540.0,355.0 C546.8,362.0 553.3,369.8 556.0,380.0 C558.7,390.2 558.3,407.5 556.0,416.0 C553.7,424.5 547.3,428.0 542.0,431.0 C536.7,434.0 531.7,434.0 524.0,434.0 C516.3,434.0 503.7,432.0 496.0,431.0 C488.3,430.0 482.0,425.7 478.0,428.0 C474.0,430.3 473.7,438.3 472.0,445.0 C470.3,451.7 470.8,461.8 468.0,468.0 C465.2,474.2 459.3,478.3 455.0,482.0 C450.7,485.7 446.2,488.7 442.0,490.0 C437.8,491.3 434.0,491.3 430.0,490.0 C426.0,488.7 422.2,485.3 418.0,482.0 C413.8,478.7 408.0,475.9 405.0,470.0 C402.0,464.1 403.7,449.5 400.0,446.3 C396.3,443.1 388.8,447.9 382.8,451.0 C376.8,454.1 371.2,461.4 364.2,464.9 C357.2,468.4 348.8,471.1 341.0,471.9 C333.2,472.7 323.9,472.2 317.7,469.5 C311.5,466.8 307.2,461.8 303.7,455.6 C300.2,449.4 299.8,439.1 296.7,432.3 C293.6,425.5 288.6,420.4 285.0,415.0 C281.4,409.6 277.5,407.5 275.0,400.0 C272.5,392.5 270.5,380.8 270.0,370.0 C269.5,359.2 271.2,345.0 272.0,335.0 C272.8,325.0 271.7,317.5 275.0,310.0Z" fill="#2BFF00"/>
<path d="M266.5,314.2 C269.5,308.4 282.1,304.6 289.8,300.0 C297.6,295.4 306.0,289.8 313.0,286.3 C320.0,282.9 326.2,280.1 331.6,279.3 C337.0,278.5 339.2,282.3 345.6,281.6 C352.0,280.9 360.1,277.3 370.0,275.0 C379.9,272.7 395.0,268.0 405.0,268.0 C415.0,268.0 423.3,270.5 430.0,275.0 C436.7,279.5 440.0,287.8 445.0,295.0 C450.0,302.2 455.0,312.8 460.0,318.0 C465.0,323.2 468.3,323.7 475.0,326.5 C481.7,329.3 491.7,331.9 500.0,335.0 C508.3,338.1 517.5,339.2 525.0,345.0 C532.5,350.8 541.4,359.2 544.7,370.0 C548.0,380.8 546.6,400.8 545.0,410.0 C543.4,419.2 541.7,422.5 535.0,425.0 C528.3,427.5 514.2,425.5 505.0,425.0 C495.8,424.5 487.2,420.8 480.0,422.0 C472.8,423.2 467.8,426.5 462.0,432.0 C456.2,437.5 450.3,448.7 445.0,455.0 C439.7,461.3 435.0,469.5 430.0,470.0 C425.0,470.5 420.3,461.7 415.0,458.0 C409.7,454.3 403.4,451.0 398.0,448.0 C392.6,445.0 389.2,441.3 382.8,440.0 C376.4,438.7 367.2,440.7 359.5,440.0 C351.8,439.3 343.3,438.5 336.3,436.0 C329.3,433.5 322.9,429.3 317.7,425.0 C312.5,420.7 309.6,415.8 305.0,410.0 C300.4,404.2 294.2,398.3 290.0,390.0 C285.8,381.7 283.0,369.2 280.0,360.0 C277.0,350.8 274.2,342.6 272.0,335.0 C269.8,327.4 263.5,320.0 266.5,314.2Z" fill="#00FF15"/>
<path d="M300.0,300.0 C308.0,299.7 320.0,289.0 330.0,285.0 C340.0,281.0 350.0,278.2 360.0,276.0 C370.0,273.8 380.0,272.7 390.0,272.0 C400.0,271.3 410.8,270.7 420.0,272.0 C429.2,273.3 438.0,275.7 445.0,280.0 C452.0,284.3 457.8,290.5 462.0,298.0 C466.2,305.5 466.2,317.7 470.0,325.0 C473.8,332.3 478.3,337.5 485.0,342.0 C491.7,346.5 502.0,347.3 510.0,352.0 C518.0,356.7 528.3,362.0 533.0,370.0 C537.7,378.0 538.5,391.7 538.0,400.0 C537.5,408.3 535.5,415.3 530.0,420.0 C524.5,424.7 513.3,426.0 505.0,428.0 C496.7,430.0 487.5,429.7 480.0,432.0 C472.5,434.3 466.7,438.7 460.0,442.0 C453.3,445.3 447.5,450.3 440.0,452.0 C432.5,453.7 422.5,454.0 415.0,452.0 C407.5,450.0 401.7,443.3 395.0,440.0 C388.3,436.7 382.5,434.5 375.0,432.0 C367.5,429.5 358.3,427.8 350.0,425.0 C341.7,422.2 332.0,419.2 325.0,415.0 C318.0,410.8 312.5,405.8 308.0,400.0 C303.5,394.2 300.2,390.0 298.0,380.0 C295.8,370.0 297.2,349.7 295.0,340.0 C292.8,330.3 288.8,328.3 285.0,322.0 C281.2,315.7 272.5,307.8 272.0,302.0 C271.5,296.2 277.3,287.3 282.0,287.0 C286.7,286.7 292.0,300.3 300.0,300.0Z" fill="#00FF3A"/>
<path d="M320.0,290.0 C327.0,289.2 339.2,282.3 350.0,280.0 C360.8,277.7 373.3,276.7 385.0,276.0 C396.7,275.3 409.5,274.5 420.0,276.0 C430.5,277.5 441.0,280.2 448.0,285.0 C455.0,289.8 459.2,296.7 462.0,305.0 C464.8,313.3 462.0,327.2 465.0,335.0 C468.0,342.8 474.2,347.5 480.0,352.0 C485.8,356.5 493.3,358.2 500.0,362.0 C506.7,365.8 515.3,369.5 520.0,375.0 C524.7,380.5 528.0,388.8 528.0,395.0 C528.0,401.2 524.7,408.7 520.0,412.0 C515.3,415.3 507.0,415.7 500.0,415.0 C493.0,414.3 484.3,407.2 478.0,408.0 C471.7,408.8 468.3,415.5 462.0,420.0 C455.7,424.5 447.0,431.7 440.0,435.0 C433.0,438.3 426.7,440.8 420.0,440.0 C413.3,439.2 406.7,433.3 400.0,430.0 C393.3,426.7 388.3,423.3 380.0,420.0 C371.7,416.7 355.8,413.0 350.0,410.0 C344.2,407.0 345.8,406.2 345.0,402.0 C344.2,397.8 347.5,393.3 345.0,385.0 C342.5,376.7 335.0,364.5 330.0,352.0 C325.0,339.5 320.0,316.7 315.0,310.0 C310.0,303.3 305.5,313.7 300.0,312.0 C294.5,310.3 283.3,304.0 282.0,300.0 C280.7,296.0 287.7,290.5 292.0,288.0 C296.3,285.5 303.3,284.7 308.0,285.0 C312.7,285.3 313.0,290.8 320.0,290.0Z" fill="#00FF6A"/>
<path d="M332.0,288.0 C339.0,287.7 350.3,286.0 360.0,285.0 C369.7,284.0 380.0,282.5 390.0,282.0 C400.0,281.5 410.8,280.7 420.0,282.0 C429.2,283.3 439.2,285.3 445.0,290.0 C450.8,294.7 453.3,301.7 455.0,310.0 C456.7,318.3 456.2,331.3 455.0,340.0 C453.8,348.7 450.5,355.3 448.0,362.0 C445.5,368.7 443.0,375.0 440.0,380.0 C437.0,385.0 435.8,389.0 430.0,392.0 C424.2,395.0 413.3,397.0 405.0,398.0 C396.7,399.0 387.2,399.0 380.0,398.0 C372.8,397.0 366.0,395.3 362.0,392.0 C358.0,388.7 358.0,383.0 356.0,378.0 C354.0,373.0 352.7,368.3 350.0,362.0 C347.3,355.7 343.3,346.2 340.0,340.0 C336.7,333.8 332.0,330.8 330.0,325.0 C328.0,319.2 331.0,308.2 328.0,305.0 C325.0,301.8 318.0,306.8 312.0,306.0 C306.0,305.2 294.0,302.7 292.0,300.0 C290.0,297.3 295.7,292.2 300.0,290.0 C304.3,287.8 312.7,287.3 318.0,287.0 C323.3,286.7 325.0,288.3 332.0,288.0Z" fill="#00FF9C"/>
<path d="M498.0,370.0 C500.5,366.0 507.7,366.3 512.0,368.0 C516.3,369.7 521.5,375.0 524.0,380.0 C526.5,385.0 527.7,393.0 527.0,398.0 C526.3,403.0 523.7,408.3 520.0,410.0 C516.3,411.7 508.8,411.0 505.0,408.0 C501.2,405.0 498.2,398.3 497.0,392.0 C495.8,385.7 495.5,374.0 498.0,370.0Z" fill="#00FF9C"/>
<path d="M340.0,292.0 C344.3,288.8 355.7,290.7 362.0,293.0 C368.3,295.3 372.5,304.7 378.0,306.0 C383.5,307.3 390.0,303.5 395.0,301.0 C400.0,298.5 403.0,293.0 408.0,291.0 C413.0,289.0 419.7,288.2 425.0,289.0 C430.3,289.8 436.7,291.2 440.0,296.0 C443.3,300.8 444.5,310.7 445.0,318.0 C445.5,325.3 444.3,333.3 443.0,340.0 C441.7,346.7 439.8,352.7 437.0,358.0 C434.2,363.3 429.2,368.0 426.0,372.0 C422.8,376.0 422.7,379.2 418.0,382.0 C413.3,384.8 404.7,387.8 398.0,389.0 C391.3,390.2 383.0,390.2 378.0,389.0 C373.0,387.8 370.3,385.2 368.0,382.0 C365.7,378.8 366.7,374.0 364.0,370.0 C361.3,366.0 356.0,363.3 352.0,358.0 C348.0,352.7 342.7,345.7 340.0,338.0 C337.3,330.3 336.0,319.7 336.0,312.0 C336.0,304.3 335.7,295.2 340.0,292.0Z" fill="#00FFCF"/>
<path d="M507.0,382.0 C508.2,378.7 513.5,378.7 516.0,380.0 C518.5,381.3 521.5,386.5 522.0,390.0 C522.5,393.5 521.2,399.3 519.0,401.0 C516.8,402.7 511.0,403.2 509.0,400.0 C507.0,396.8 505.8,385.3 507.0,382.0Z" fill="#00FFCF"/>
<path d="M346.3,297.7 C349.6,295.1 358.3,297.1 362.6,300.0 C366.9,302.9 368.3,311.3 372.0,315.0 C375.7,318.7 380.7,323.2 385.0,322.0 C389.3,320.8 394.1,312.0 398.0,308.0 C401.9,304.0 403.7,300.0 408.1,298.0 C412.5,296.0 420.0,295.2 424.4,296.0 C428.8,296.8 432.0,298.8 434.2,302.6 C436.4,306.4 437.1,312.8 437.4,318.8 C437.7,324.8 436.9,332.4 435.8,338.4 C434.7,344.4 433.4,349.7 431.0,354.6 C428.6,359.5 424.4,364.5 421.2,367.7 C418.0,370.9 415.9,372.4 412.0,374.0 C408.1,375.6 402.5,376.7 398.0,377.0 C393.5,377.3 389.0,377.6 385.0,376.0 C381.0,374.4 377.7,370.2 374.0,367.7 C370.3,365.2 366.7,363.9 362.6,361.2 C358.5,358.5 352.8,355.8 349.5,351.4 C346.2,347.0 344.1,341.1 343.0,335.1 C341.9,329.1 342.4,321.8 343.0,315.6 C343.6,309.4 343.0,300.3 346.3,297.7Z" fill="#00FFFF"/>
<path d="M385.5,321.0 C388.2,317.6 395.8,312.8 401.0,310.7 C406.2,308.6 412.0,307.7 416.5,308.6 C421.0,309.5 425.4,312.2 428.0,316.0 C430.6,319.8 432.0,327.0 432.0,331.3 C432.0,335.6 430.1,338.9 428.0,341.7 C425.9,344.5 422.0,345.4 419.6,348.0 C417.2,350.6 414.8,353.3 413.4,357.0 C412.0,360.7 413.5,366.8 411.3,370.0 C409.1,373.2 403.9,375.7 400.0,376.0 C396.1,376.3 390.0,375.2 387.6,372.0 C385.2,368.8 386.2,362.1 385.5,357.0 C384.8,351.9 383.6,346.0 383.4,341.7 C383.2,337.4 384.1,334.8 384.5,331.3 C384.9,327.9 382.8,324.4 385.5,321.0Z" fill="#00C8FF"/>
<path d="M404.0,312.7 C406.2,310.7 413.6,311.9 416.5,313.8 C419.4,315.7 421.3,320.6 421.7,324.0 C422.1,327.4 420.3,332.0 418.6,334.4 C416.9,336.8 413.4,336.3 411.3,338.6 C409.2,340.9 406.5,344.9 406.2,348.0 C405.9,351.1 409.3,353.3 409.3,357.0 C409.3,360.7 408.1,367.3 406.2,370.0 C404.3,372.7 400.6,373.0 398.0,373.0 C395.4,373.0 392.3,372.7 390.7,370.0 C389.1,367.3 388.1,360.7 388.6,357.0 C389.1,353.3 391.7,351.2 393.8,348.0 C395.9,344.8 399.5,341.2 401.0,337.5 C402.5,333.8 402.5,330.1 403.0,326.0 C403.5,321.9 401.8,314.7 404.0,312.7Z" fill="#009BFF"/>
<path d="M372.0,438.0 C374.8,435.0 380.7,431.7 385.0,432.0 C389.3,432.3 394.2,435.3 398.0,440.0 C401.8,444.7 405.7,453.3 408.0,460.0 C410.3,466.7 413.3,475.0 412.0,480.0 C410.7,485.0 404.5,488.7 400.0,490.0 C395.5,491.3 389.2,491.3 385.0,488.0 C380.8,484.7 377.8,476.3 375.0,470.0 C372.2,463.7 368.5,455.3 368.0,450.0 C367.5,444.7 369.2,441.0 372.0,438.0Z" fill="#BCFF00"/>
<path d="M385.0,455.0 C387.0,451.7 391.8,448.3 395.0,450.0 C398.2,451.7 401.8,459.7 404.0,465.0 C406.2,470.3 409.0,477.8 408.0,482.0 C407.0,486.2 401.3,489.5 398.0,490.0 C394.7,490.5 390.5,488.3 388.0,485.0 C385.5,481.7 383.5,475.0 383.0,470.0 C382.5,465.0 383.0,458.3 385.0,455.0Z" fill="#F2FF00"/>
<path d="M394.0,474.0 C394.7,472.0 400.0,471.0 402.0,472.0 C404.0,473.0 406.7,478.0 406.0,480.0 C405.3,482.0 400.0,485.0 398.0,484.0 C396.0,483.0 393.3,476.0 394.0,474.0Z" fill="#FFAD00"/>
<path d="M360.0,252.0 C359.8,244.7 363.0,242.3 365.0,238.0 C367.0,233.7 367.8,227.0 372.0,226.0 C376.2,225.0 384.5,229.7 390.0,232.0 C395.5,234.3 400.0,238.0 405.0,240.0 C410.0,242.0 414.2,243.0 420.0,244.0 C425.8,245.0 434.7,246.7 440.0,246.0 C445.3,245.3 449.0,239.0 452.0,240.0 C455.0,241.0 459.2,248.3 458.0,252.0 C456.8,255.7 450.5,261.0 445.0,262.0 C439.5,263.0 431.7,258.0 425.0,258.0 C418.3,258.0 410.5,259.7 405.0,262.0 C399.5,264.3 396.5,268.7 392.0,272.0 C387.5,275.3 382.3,280.3 378.0,282.0 C373.7,283.7 369.0,287.0 366.0,282.0 C363.0,277.0 360.2,259.3 360.0,252.0Z" fill="#BCFF00"/>
<path d="M368.0,245.0 C368.3,241.2 368.7,236.2 372.0,235.0 C375.3,233.8 383.0,236.2 388.0,238.0 C393.0,239.8 398.3,243.0 402.0,246.0 C405.7,249.0 410.0,252.7 410.0,256.0 C410.0,259.3 405.3,263.3 402.0,266.0 C398.7,268.7 394.0,271.3 390.0,272.0 C386.0,272.7 381.3,272.3 378.0,270.0 C374.7,267.7 371.7,262.2 370.0,258.0 C368.3,253.8 367.7,248.8 368.0,245.0Z" fill="#F2FF00"/>
<path d="M232.0,400.0 C234.0,394.8 240.8,396.5 245.0,397.0 C249.2,397.5 254.3,399.2 257.0,403.0 C259.7,406.8 261.3,414.3 261.0,420.0 C260.7,425.7 258.2,433.8 255.0,437.0 C251.8,440.2 245.7,440.5 242.0,439.0 C238.3,437.5 234.7,434.5 233.0,428.0 C231.3,421.5 230.0,405.2 232.0,400.0Z" fill="#FFE400"/>
<path d="M237.0,404.0 C238.7,400.7 245.0,400.2 248.0,401.0 C251.0,401.8 253.8,405.2 255.0,409.0 C256.2,412.8 256.5,420.3 255.0,424.0 C253.5,427.7 248.8,431.5 246.0,431.0 C243.2,430.5 239.5,425.5 238.0,421.0 C236.5,416.5 235.3,407.3 237.0,404.0Z" fill="#F2FF00"/>
<path d="M224.0,306.0 C226.3,302.5 231.7,299.3 236.0,299.0 C240.3,298.7 247.0,300.8 250.0,304.0 C253.0,307.2 254.7,313.5 254.0,318.0 C253.3,322.5 250.0,329.0 246.0,331.0 C242.0,333.0 234.0,331.8 230.0,330.0 C226.0,328.2 223.0,324.0 222.0,320.0 C221.0,316.0 221.7,309.5 224.0,306.0Z" fill="#FFE400"/>
<path d="M229.0,314.0 C229.8,311.8 233.7,310.2 236.0,310.0 C238.3,309.8 241.7,311.2 243.0,313.0 C244.3,314.8 244.8,318.8 244.0,321.0 C243.2,323.2 240.2,325.7 238.0,326.0 C235.8,326.3 232.5,325.0 231.0,323.0 C229.5,321.0 228.2,316.2 229.0,314.0Z" fill="#FFAD00"/>
<path d="M50.6,315.8 L64.7,319.5 L73.0,321.0 L77.0,315.1 L78.9,301.4 L91.0,296.2 L93.6,290.8 L95.5,278.0 L94.7,272.0 L94.6,260.3 L101.8,251.6 L105.7,232.3 L112.5,226.6 L123.4,221.7 L139.9,217.2 L145.6,217.9 L158.9,216.3 L170.1,217.4 L176.7,218.3 L179.1,225.2 L185.2,232.4 L191.9,234.7 L197.8,236.5 L205.4,247.1 L210.3,257.6 L213.2,266.5 L213.0,279.1 L215.8,281.5 L221.6,286.3 L223.5,293.2 L223.7,296.2 L228.5,302.0 L228.2,303.5 L223.1,309.3 L221.9,316.4 L222.3,328.0 L219.1,341.9 L219.3,348.2 L217.7,351.3 L213.4,349.4 L209.3,349.3 L206.6,346.6 L204.6,349.2 L201.4,355.9 L198.8,361.8 L193.8,366.4 L190.0,372.7 L193.5,378.1 L197.0,378.1 L200.2,384.3 L197.5,390.9 L195.8,395.0 L195.8,401.7 L196.4,410.8 L198.6,414.1 L198.3,418.6 L200.7,425.2 L203.2,425.9 L206.0,425.8 L210.5,426.3 L212.6,426.7 L216.6,425.5 L220.9,425.6 L221.0,423.4 L220.3,420.8 L216.2,416.2 L218.2,409.4 L216.3,404.9 L217.0,399.7 L222.0,398.1 L225.8,395.7 L227.9,395.2 M193.4,420.3 L183.5,427.4 L172.3,436.9 L155.9,448.8 L141.7,464.0 L135.5,482.3 L129.9,486.7 L128.3,497.7 L138.4,509.1 L148.9,521.5 L140.5,524.9 L143.2,525.6 L128.5,524.9 L112.6,525.9 L88.1,518.3 L68.6,509.0 M198.3,418.6 L193.4,420.3 L188.4,425.1 L185.8,428.3 L191.4,428.7 L193.5,429.2 L188.4,430.2 L181.4,438.2 L175.1,446.1 L166.4,454.0 L158.6,464.8 L152.2,474.4 L137.8,483.9 L139.0,492.6 L155.0,506.0 L166.7,515.5 L176.5,518.7 L184.9,523.4 L192.7,525.6 L200.5,524.8 L210.6,523.4 L211.2,516.8 L209.4,508.9 L215.2,502.7 L209.3,502.4 L204.6,501.5 L197.8,494.9 L199.5,492.1 L204.5,489.0 L203.7,487.8 L200.8,487.8 L202.7,483.6 L205.5,479.5 L209.7,471.2 L212.6,471.6 L214.2,474.6 L212.7,480.7 L211.1,488.8 L212.0,496.9 L217.8,500.8 L215.4,507.2 L215.9,509.2 L221.6,518.1 L225.2,523.5 L231.2,529.2 L237.2,533.9 L236.8,537.0 L236.0,540.8 L236.0,546.5 L238.4,549.8 L239.1,552.0 L235.2,550.4 L236.5,558.3 L237.2,560.6 L246.6,559.2 L244.4,563.5 L238.5,571.2 L234.8,579.8 L232.4,586.7 L228.9,599.5 L227.8,607.0 L226.4,615.2 L225.0,624.7 L226.6,626.9 L231.1,625.5 L240.2,622.1 L245.4,618.2 L251.1,613.0 L256.7,602.4 L260.9,602.1 L267.4,602.4 L273.6,600.0 L283.6,595.8 L294.0,591.8 L296.9,591.1 L300.5,593.0 L304.7,593.3 L308.9,593.4 L314.0,594.7 L313.5,602.8 L315.3,605.2 L318.1,612.1 L318.4,615.9 L315.5,624.6 L318.7,626.5 L324.7,624.7 L330.7,626.1 L330.9,638.1 L330.8,648.0 L328.8,657.8 L325.3,667.6 L329.4,673.7 L333.1,683.1 L337.0,697.2 L340.8,702.3 L347.6,708.4 L351.8,707.7 L350.3,700.1 L348.1,694.2 L349.4,688.2 L343.8,680.9 L339.7,676.0 L336.3,673.9 L335.4,666.8 L335.3,661.6 L332.3,655.9 L335.4,649.9 L337.4,646.8 L341.0,642.5 L342.7,646.7 L349.3,651.1 L351.1,656.3 L358.2,659.6 L358.8,669.4 L362.5,667.6 L367.7,665.4 L369.4,661.5 L374.5,659.7 L380.4,656.4 L381.5,652.0 L382.0,646.1 L381.6,644.7 L379.4,637.5 L377.2,634.2 L374.7,631.8 L370.1,626.9 L367.0,620.8 L369.5,615.6 L371.8,612.2 L376.4,609.4 L379.2,609.1 L381.7,609.5 L384.1,609.6 L385.3,614.8 L387.3,610.9 L391.4,609.1 L397.3,606.2 L402.0,605.5 L407.0,602.9 L411.4,599.9 L416.2,594.6 L420.4,587.6 L422.1,582.3 L423.3,578.8 L425.5,575.5 L425.9,570.5 L422.6,569.6 L424.5,565.6 L420.9,561.1 L418.6,557.6 L414.4,553.7 L416.5,548.0 L418.0,545.9 L422.3,541.9 L418.5,542.4 L414.6,543.8 L413.3,544.8 L410.7,541.9 L407.3,538.7 L409.2,537.7 L411.8,534.7 L415.0,530.8 L417.9,530.9 L417.1,534.1 L418.0,537.2 L419.8,534.6 L424.8,531.5 L426.9,532.9 L428.7,535.4 L427.4,538.4 L431.7,538.7 L433.3,538.7 L433.1,542.2 L434.6,544.1 L435.2,548.6 L438.9,547.9 L441.8,545.7 L442.9,545.0 L442.9,541.4 L441.4,537.2 L437.9,534.1 L433.9,532.0 L433.4,529.4 L435.5,526.9 L436.9,521.1 L437.8,518.9 L440.4,514.8 L443.2,514.8 L445.9,510.9 L447.5,508.2 L448.5,501.9 L449.3,495.6 L450.8,488.9 L448.7,486.2 L445.6,480.2 L445.0,475.2 L442.3,472.6 L438.4,473.7 L435.5,476.3 L432.3,474.3 L433.7,468.1 L434.7,460.1 L436.3,455.7 L440.2,453.4 L443.5,450.9 L445.7,447.8 L449.8,444.6 L447.5,440.0 L448.8,435.0 L451.5,433.4 L451.8,427.9 L454.7,432.0 L455.2,436.4 L456.6,442.0 L457.3,446.1 L461.3,451.2 L464.9,454.6 L473.3,460.7 L472.9,456.7 L470.7,453.1 L468.8,447.8 L467.3,441.9 L463.6,436.1 L460.4,432.3 L460.9,428.8 L464.3,423.4 L462.3,417.0 L461.4,411.7 L463.1,407.7 L458.2,407.2 L455.9,407.0 L455.8,404.8 L455.2,401.9 L454.5,399.0 L460.7,395.2 L458.0,391.3 L456.6,390.0 L453.0,392.2 L450.1,396.4 L445.2,399.6 L440.3,403.4 L437.3,407.8 L435.5,412.9 L433.1,416.5 L427.6,417.3 L425.6,418.1 L423.8,420.6 L420.9,420.3 L416.5,420.7 L411.5,423.2 L408.6,427.8 L404.8,431.3 L400.0,425.9 L396.7,427.4 L394.1,427.9 L389.6,426.7 L387.0,427.1 L385.3,426.2 L383.9,418.1 L381.5,414.3 L378.3,417.5 L374.5,418.2 L370.5,418.5 L366.5,420.1 L366.3,422.7 L360.7,424.1 L360.6,420.5 L356.4,422.3 L355.2,420.7 L351.8,423.9 L345.5,430.6 L341.7,433.6 L346.9,429.8 L348.8,425.4 L353.6,419.5 L353.2,416.1 L349.2,417.9 L342.3,423.9 L340.4,421.2 L338.9,416.8 L334.4,417.6 L332.4,414.9 L330.5,412.0 L326.3,409.2 L326.3,404.1 L319.8,406.3 L314.4,403.6 L312.0,401.6 L312.2,398.8 L310.7,397.1 L315.4,396.5 L317.7,392.8 L317.2,394.8 L316.5,400.2 L319.2,403.2 L322.1,402.1 L323.3,399.1 L324.7,391.8 L326.2,388.2 L328.6,385.8 L329.2,383.5 L326.2,379.9 L324.4,376.7 L322.4,373.4 L320.4,371.0 L317.3,371.1 L313.6,368.4 L306.0,364.4 L305.4,360.8 L304.4,357.9 L301.8,355.4 L298.3,355.0 L293.8,354.5 L290.2,355.8 L290.6,358.5 L292.3,361.4 L295.0,363.0 L292.1,363.0 L287.7,363.9 L282.7,364.7 L280.7,365.0 L280.1,367.3 L282.1,370.6 L283.7,371.4 L287.2,372.0 L291.9,374.7 L295.8,373.9 L296.4,373.3 L301.5,374.1 L305.2,376.4 L306.1,378.2 L308.3,379.8 L311.8,380.5 L312.5,383.5 L310.2,385.0 L308.5,383.8 L303.9,380.1 L298.9,379.9 L295.8,381.4 L295.1,385.7 L296.3,388.7 L295.2,394.2 L293.4,390.7 L292.5,385.4 L291.1,383.6 L287.9,383.8 L284.7,385.0 L286.1,380.4 L282.9,379.6 L280.3,379.8 L277.0,378.7 L276.0,375.3 L276.5,371.1 L275.2,367.2 L276.4,362.7 L276.1,360.3 L277.3,359.0 L279.4,360.6 L282.5,361.5 L288.1,361.7 L287.6,360.4 L285.1,356.7 L280.1,356.6 L276.8,356.3 L275.6,355.5 L275.9,352.5 L275.4,347.9 L272.5,345.9 L271.0,342.8 L270.7,340.4 L268.4,338.7 L267.0,334.7 L268.9,331.7 L265.6,330.7 L267.5,327.8 L267.8,323.8 L265.6,323.7 L262.4,326.9 L257.1,328.1 L252.9,326.4 L249.2,324.2 L251.2,318.6 L256.8,309.5 L255.9,305.2 L252.0,304.2 L249.5,303.5 L243.4,297.5 L239.8,297.8 L236.9,295.5 L235.3,298.4 L231.5,301.8 L229.0,303.6 L229.7,307.2 L227.8,312.6 L228.9,317.8 L234.8,321.8 L237.7,326.7 L239.0,330.8 L241.2,334.3 L242.7,334.2 L244.0,338.6 L243.1,340.8 L243.3,345.8 L244.9,350.3 L243.4,352.3 L241.1,353.2 L237.3,354.9 L234.4,357.4 L231.9,360.6 L230.3,362.1 L227.9,364.0 L227.0,365.6 L219.7,365.4 L219.7,366.5 L221.0,368.0 L223.1,369.6 L225.8,368.0 L228.6,370.1 L227.0,373.7 L229.5,372.4 L230.8,369.4 L233.8,366.9 L235.1,363.3 L240.3,361.3 L242.0,359.2 L247.0,359.1 L247.2,362.8 L246.0,364.1 L242.4,365.8 L239.3,368.6 L236.0,372.8 L233.0,376.5 L228.0,376.2 L225.1,378.1 L222.9,379.8 L220.1,381.5 L217.5,382.8 L213.5,385.3 L214.0,387.4 L217.7,386.6 L219.3,388.5 L221.5,389.3 L224.3,386.2 L227.8,385.0 L228.9,385.7 L226.9,388.3 L230.3,390.0 L230.3,393.8 L229.1,395.9 L231.1,398.1 L232.0,401.8 L232.8,402.2 M232.8,402.2 L234.3,408.5 L237.9,413.2 L239.0,417.3 L237.4,421.0 L237.8,425.7 L239.3,430.1 L243.1,434.1 L245.9,432.7 L247.9,427.0 L250.1,421.2 L250.8,417.9 L256.1,419.8 L258.8,420.1 L257.1,417.0 L254.4,414.1 L251.1,413.8 L249.4,415.2 L246.9,412.8 L246.8,411.0 L249.0,408.0 L251.6,409.9 L252.6,404.8 L251.9,403.0 L247.0,401.4 L243.2,399.5 L239.4,398.0 L236.8,397.4 L233.8,399.1 L232.8,402.2 M258.1,442.6 L266.5,443.6 L271.8,448.5 L268.5,453.6 L263.3,452.0 L259.0,453.7 L257.5,459.2 L252.2,464.3 L245.4,471.8 L238.9,465.8 L239.2,460.5 L243.6,457.0 L248.9,456.2 L251.5,450.5 L254.0,446.1 L258.1,442.6 M278.3,461.4 L280.7,467.1 L278.4,472.4 L273.3,471.8 L272.2,467.7 L278.3,461.4 M274.0,324.2 L272.6,328.8 L272.4,333.8 L271.4,339.5 L275.6,341.5 L279.3,339.9 L283.0,340.4 L285.4,338.6 L288.2,338.6 L289.6,336.8 L292.2,340.0 L297.4,340.1 L298.6,337.4 L296.1,334.3 L292.3,333.3 L289.7,333.4 L287.4,332.2 L283.8,334.7 L281.7,333.8 L281.1,330.1 L278.3,329.9 L278.6,327.6 L275.6,331.2 L276.0,328.7 L274.0,324.2 M280.6,326.7 L284.3,328.1 L287.2,331.0 L289.6,330.7 L290.8,329.0 L290.1,326.1 L290.1,322.8 L287.6,321.9 L283.8,318.5 L281.8,319.3 L281.4,322.1 L280.6,326.7 M326.9,325.2 L332.1,326.5 L332.9,329.8 L328.0,336.2 L324.4,335.9 L321.6,333.4 L322.3,327.7 L326.4,324.8 L326.9,325.2 M344.3,295.6 L352.3,296.2 L360.8,303.8 L365.2,309.9 L367.8,318.8 L366.3,322.5 L371.3,325.7 L376.3,335.4 L383.2,337.6 L384.6,340.5 L386.5,343.5 L382.8,349.6 L381.2,354.4 L376.5,358.9 L372.9,363.0 L367.6,361.9 L363.9,361.7 L360.3,361.6 L354.7,353.9 L348.1,347.7 L341.8,338.7 L340.7,333.2 L344.6,325.7 L345.8,315.7 L345.7,306.3 L344.3,295.6 M351.4,372.4 L346.7,374.4 L346.5,376.4 L351.0,379.0 L355.7,381.4 L357.0,377.8 L354.9,373.5 L351.4,372.4 M337.0,408.0 L342.4,407.9 L350.0,405.4 L356.3,405.8 L359.9,407.1 L355.2,409.0 L348.7,408.6 L343.5,409.3 L337.6,411.2 L337.0,408.0 M360.3,391.1 L361.4,394.5 L364.3,396.7 L366.7,395.8 L365.8,392.5 L362.6,390.9 L360.3,391.1 M376.4,410.9 L379.2,412.1 L382.6,409.0 L381.1,404.3 L378.5,405.2 L376.4,410.9 M405.6,417.7 L410.7,418.4 L412.9,413.1 L412.6,410.3 L407.4,413.2 L405.6,417.7 M439.2,396.3 L438.0,394.9 L439.2,394.3 L439.2,396.3 M458.2,388.0 L455.9,382.7 L454.5,380.2 L451.9,382.5 L450.1,385.5 L445.2,380.9 L443.5,377.8 L441.3,374.7 L442.3,369.8 L443.1,365.5 L442.9,358.0 L443.4,353.1 L442.5,351.1 L439.1,349.2 L435.7,346.3 L435.7,342.5 L433.1,340.5 L433.6,337.2 L432.1,331.0 L427.8,327.1 L422.4,324.9 L419.7,320.6 L416.4,319.4 L413.6,319.7 L408.7,327.6 L411.0,320.2 L407.4,317.1 L404.5,318.7 L401.2,318.3 L399.1,313.1 L402.1,310.6 L404.8,309.7 L407.8,304.1 L409.6,303.1 L413.9,302.2 L417.8,299.4 L421.1,297.4 L424.3,291.1 L423.1,284.3 L417.5,278.8 L412.8,275.1 L408.0,273.6 L409.0,266.4 L407.1,260.3 L403.7,261.4 L402.0,270.1 L397.8,276.1 L397.4,285.8 L397.0,294.7 L394.0,295.0 L388.3,293.0 L385.3,289.8 L384.5,281.8 L380.3,281.9 L377.4,287.9 L375.4,283.9 L371.5,279.5 L366.9,273.7 L361.4,269.8 L357.3,265.7 L359.6,261.7 L363.9,256.4 L374.6,255.0 L378.7,251.7 L383.0,248.9 L387.6,243.7 L384.2,246.5 L376.5,251.5 L373.0,250.4 L373.9,247.6 L373.6,244.2 L371.0,241.7 L368.4,240.3 L363.5,240.3 L361.4,242.4 L363.4,239.2 L369.2,236.3 L373.9,232.4 L375.4,235.8 L377.8,235.6 L382.8,233.3 L385.3,232.3 L387.7,227.3 L385.3,225.5 L389.3,223.8 L393.4,222.9 L396.2,221.6 L396.5,217.6 L399.5,215.3 L401.4,210.7 L403.1,208.6 L402.2,202.2 L407.1,200.0 L412.2,198.0 L417.2,195.0 L421.3,192.6 L423.9,186.3 L422.2,178.7 L421.9,170.4 L422.7,167.6 L426.6,165.3 L428.4,171.6 L430.1,177.4 L429.4,182.2 L432.8,187.1 L438.4,189.0 L442.3,191.4 L445.4,192.8 L450.6,193.3 L451.6,188.6 L456.7,191.7 L464.1,196.5 L468.9,196.9 L479.7,195.0 L483.2,189.0 L487.7,181.9 L492.0,175.5 L493.2,167.8 L491.7,160.6 L487.7,153.2 L478.9,151.8 L470.3,152.8 L469.1,153.7 L466.5,158.4 L456.9,157.4 L452.7,154.7 L458.3,146.2 L463.3,140.7 L465.8,134.3 L456.1,130.8 L447.6,128.0 L444.9,123.5 L449.1,112.1 L451.8,105.2 L449.6,99.5 L443.5,91.9 L435.5,93.0 L432.9,93.6 L423.4,88.0 L420.0,86.6 L415.4,91.2 L412.5,95.5 L408.8,98.2 L399.9,99.1 L394.9,103.8 L392.6,100.8 L394.6,97.4 L392.8,89.7 L390.2,96.2 L386.3,100.2 L385.3,102.1 L382.9,99.7 L376.9,94.8 L370.5,95.6 L355.8,96.7 L346.0,98.4 L339.4,88.1 L334.2,87.9 L322.5,82.2 L305.8,81.2 L291.5,80.3 L281.0,75.0 L271.9,66.2 L268.9,57.9 M444.9,39.6 L443.9,45.5 L436.0,50.1 L426.7,63.1 L427.2,79.6 L426.5,84.8 L433.4,90.6 L439.9,83.2 L446.6,89.4 L455.0,98.2 L461.6,102.6 L461.4,108.8 L466.9,119.1 L472.8,123.6 L482.8,130.4 L486.4,139.5 L494.1,146.5 L502.0,148.8 L511.3,158.6 L516.6,167.7 L522.3,178.4 L521.5,185.4 L519.0,191.1 L518.5,197.1 L518.8,203.8 L519.5,209.1 L519.3,215.3 L519.5,222.9 L520.0,229.3 L517.5,235.0 L518.8,242.9 L523.0,237.6 L523.3,232.4 L524.8,225.5 L526.2,218.5 L527.7,209.8 L530.1,204.6 L530.2,208.1 L531.0,216.0 L528.2,220.2 L528.7,230.3 L525.7,237.4 L525.3,242.7 L523.6,246.6 L522.1,250.7 L520.9,257.4 L521.8,261.2 L523.5,263.9 L521.3,267.7 L520.0,272.2 L517.6,276.3 L517.0,278.5 L514.9,283.0 L513.2,286.2 L508.4,288.7 L506.4,291.4 L500.8,293.9 L495.6,297.4 L492.7,300.4 L490.8,303.1 L489.1,300.1 L486.7,300.9 L486.2,305.9 L486.0,308.6 L487.0,313.0 L483.3,316.6 L481.1,322.5 L479.2,325.8 L478.0,330.6 L474.9,335.1 L474.5,338.1 L473.1,341.4 L472.3,345.6 L472.0,349.6 L473.0,352.7 L472.6,357.6 L475.0,361.2 L477.1,364.1 L474.0,365.3 L478.0,366.4 L482.4,367.6 L485.9,370.8 L489.3,374.2 L491.6,378.7 L493.1,383.5 L494.3,386.4 L490.9,381.5 L484.5,376.1 L481.2,373.6 L480.5,372.8 L480.6,376.1 L478.0,381.0 L474.6,384.8 L471.4,385.6 L468.3,385.1 L466.3,382.0 L462.9,379.2 L462.2,381.8 L462.0,385.0 L459.7,386.3 L458.2,388.0 M489.0,300.5 L490.4,303.7 L490.0,308.5 L488.5,314.3 L487.8,311.2 L486.8,306.7 L489.0,300.5 M377.9,293.3 L382.5,297.7 L389.3,300.9 L396.0,301.5 L388.8,310.2 L393.7,318.4 L401.9,329.7 L393.8,329.8 L388.2,322.4 L383.2,317.8 L375.4,307.7 L374.8,303.1 L377.9,293.3 M407.4,300.8 L401.1,296.7 L399.1,299.8 L403.2,306.1 L407.8,304.1 L407.4,300.8 M431.0,335.2 L429.4,330.5 L422.7,326.3 L417.5,325.3 L415.7,327.1 L415.5,331.3 L414.1,335.9 L415.0,338.4 L419.7,339.5 L420.6,342.5 L426.4,342.0 L428.6,339.4 L431.0,335.2 M430.0,347.1 L428.3,342.3 L425.1,343.8 L420.9,345.8 L421.3,348.6 L423.5,350.5 L427.2,349.0 L430.0,347.1 M399.1,339.9 L392.5,337.2 L390.5,340.9 L388.3,343.7 L385.8,346.5 L383.8,349.6 L382.0,354.2 L385.3,356.4 L388.9,357.3 L394.0,354.0 L397.3,352.2 L396.5,347.0 L396.8,342.3 L399.1,339.9 M402.7,334.8 L393.3,332.2 L393.3,336.8 L398.4,339.7 L403.6,340.2 L402.7,334.8 M400.4,345.4 L395.9,345.2 L395.0,351.2 L396.6,353.5 L399.0,349.7 L400.4,345.4 M418.6,347.8 L411.0,341.1 L408.7,343.1 L411.2,346.9 L415.2,349.9 L418.6,347.8 M407.0,340.3 L405.6,337.9 L403.9,341.4 L406.1,343.3 L407.0,340.3 M416.6,352.4 L413.6,350.4 L412.6,353.3 L415.9,353.9 L416.6,352.4 M407.9,330.5 L404.6,327.5 L401.9,332.3 L404.6,334.4 L407.9,330.5 M413.4,331.1 L410.5,328.4 L407.3,333.6 L408.8,335.4 L411.5,334.2 L413.4,331.1 M416.3,321.8 L412.6,321.9 L412.2,323.8 L414.2,324.5 L416.3,321.8 M444.4,155.5 L436.0,158.3 L426.3,156.7 L413.4,149.0 L402.7,141.0 L408.2,140.1 L417.3,141.2 L418.0,144.8 L431.1,152.8 L444.4,155.5 M397.0,139.3 L385.3,138.1 L378.0,133.3 L385.3,131.4 L391.8,128.8 L404.1,133.0 L397.0,139.3 M420.7,134.9 L412.0,131.9 L415.6,131.4 L420.7,134.9 M373.3,133.0 L366.4,132.6 L373.2,130.8 L373.3,133.0 M452.3,557.1 L453.0,549.8 L449.9,546.9 L451.8,542.4 L455.2,538.6 L459.1,536.0 L461.7,534.4 L461.7,527.7 L465.8,526.0 L465.8,523.0 L464.7,515.3 L463.2,511.1 L464.2,510.1 L467.3,511.6 L470.4,513.9 L470.2,519.2 L472.4,523.9 L474.7,527.7 L472.8,530.6 L471.8,533.8 L469.8,535.3 L466.4,537.0 L466.6,538.7 L464.9,542.5 L461.3,540.8 L455.6,543.4 L453.4,546.3 L455.4,553.0 L452.3,557.1 M455.6,547.5 L461.5,544.9 L460.6,541.5 L455.7,543.7 L455.6,547.5 M462.0,510.6 L463.6,505.5 L468.5,504.5 L470.6,497.4 L467.8,495.6 L459.1,495.9 L460.3,499.2 L460.1,504.7 L462.0,510.6 M458.2,494.4 L459.9,490.5 L454.6,484.5 L457.4,482.7 L449.5,476.7 L444.5,470.0 L445.1,472.8 L449.5,479.8 L454.3,488.7 L458.2,494.4 M429.9,589.6 L426.7,590.7 L424.8,599.6 L428.4,603.8 L429.8,596.5 L429.9,589.6 M386.1,615.7 L389.5,617.9 L383.1,624.2 L379.4,619.6 L386.1,615.7 M430.4,618.7 L437.1,617.3 L438.1,626.4 L436.9,631.4 L440.6,637.9 L450.8,640.5 L449.1,643.5 L439.3,638.7 L434.0,637.8 L432.5,629.9 L430.7,627.9 L430.4,618.7 M447.9,672.4 L456.3,662.4 L462.0,654.5 L470.8,666.6 L467.6,674.7 L461.4,671.9 L447.9,672.4 M444.2,654.7 L447.9,648.8 L453.2,650.1 L452.0,655.5 L447.7,659.1 L444.2,654.7 M453.7,642.3 L458.7,642.5 L458.6,651.3 L455.6,649.5 L453.7,642.3 M425.8,665.7 L431.8,655.5 L429.6,657.4 L423.6,668.6 L425.8,665.7 M379.4,718.1 L379.5,707.6 L385.3,708.2 L393.8,703.6 L402.1,699.3 L410.0,691.5 L415.1,687.2 L419.7,679.7 L422.0,676.7 L431.0,683.6 L435.2,685.7 L429.2,690.5 L430.7,709.2 L426.8,715.7 M326.2,713.0 L319.2,702.7 L308.5,685.8 L307.0,676.4 L318.0,681.3 L328.7,698.7 L346.8,716.0 M241.5,625.8 L244.1,637.8 L243.0,643.2 L234.6,645.3 L233.8,638.1 L241.5,625.8 M372.9,495.4 L377.2,493.1 L381.4,490.0 L384.4,483.5 L383.5,482.8 L379.5,488.9 L375.3,492.6 L372.6,495.0 L372.9,495.4 M304.5,487.0 L307.8,488.5 L311.1,492.0 L315.5,493.9 L313.4,495.1 L308.2,492.1 L304.1,489.6 L304.5,487.0 M622.2,360.8 L623.7,357.4 L624.9,356.0 L627.8,359.1 L624.4,361.1 L622.2,360.8 M619.3,364.3 L619.6,361.4 L620.5,363.0 L619.3,364.3 M616.5,370.9 L617.8,368.5 L617.8,370.1 L616.5,370.9 M614.0,377.0 L614.0,375.0 L615.3,375.8 L614.0,377.0 M404.9,337.5 L402.8,336.5 L402.2,338.9 L404.2,339.9 L404.9,337.5 M404.8,347.8 L402.6,346.5 L401.7,349.4 L404.0,350.1 L404.8,347.8 M401.5,345.9 L399.9,345.1 L399.2,348.1 L400.3,348.3 L401.5,345.9 M394.1,327.7 L390.6,327.2 L391.2,329.7 L393.7,330.1 L394.1,327.7 M404.2,295.7 L402.4,297.6 L404.4,298.3 L404.2,295.7 M403.4,275.3 L401.3,276.6 L402.0,278.0 L403.4,275.3 M411.4,343.2 L409.9,341.4 L408.8,344.3 L410.7,345.3 L411.4,343.2 M398.4,339.7 L394.9,339.3 L395.5,342.3 L398.3,342.2 L398.4,339.7 M485.0,368.2 L484.0,364.8 L482.0,364.7 L481.7,367.7 L485.0,368.2 M464.1,394.3 L465.4,390.5 L464.2,389.9 L463.1,392.9 L464.1,394.3 M475.9,388.6 L476.4,386.6 L474.5,386.9 L475.9,388.6 M496.0,389.4 L496.6,392.5 M497.3,394.5 L498.1,397.7 M499.0,402.0 L498.7,406.1 M498.6,410.3 L497.7,414.3 M496.0,420.3 L493.5,423.7 M488.3,428.0 L486.3,430.4 M470.6,495.3 L472.0,490.8 M472.1,488.9 L473.2,484.5 M473.9,481.6 L474.6,476.9 M474.4,473.4 L474.5,468.6 M473.4,465.9 L473.2,461.8 M445.8,333.8 L440.3,333.2 L437.0,331.3 L441.0,330.2 L444.8,331.3 L445.8,333.8 M449.7,317.8 L444.3,316.7 L439.5,315.4 L443.1,314.8 L448.1,316.1 L449.7,317.8 M448.9,305.9 L443.5,304.7 L441.5,303.2 L445.1,303.9 L448.9,305.9 M440.3,291.4 L437.1,294.3 L437.8,294.8 L440.4,292.2 L440.3,291.4 M440.8,268.9 L438.0,271.2 L437.1,278.2 L439.2,280.5 L440.3,274.3 L440.8,268.9 M443.9,269.8 L443.8,273.2 L442.7,277.5 L443.4,277.9 L443.7,272.4 L443.9,269.8 M435.9,252.5 L427.8,254.3 L420.6,254.8 L418.9,248.0 L425.0,247.9 L431.6,250.5 L435.9,252.5 M432.0,232.5 L429.3,238.3 L426.5,244.8 L420.9,245.0 L426.3,239.3 L427.8,232.3 L432.0,232.5 M420.0,244.7 L415.6,241.2 L413.4,239.6 L415.0,234.6 L417.3,233.3 L419.0,237.3 L419.0,242.7 L420.0,244.7 M420.9,229.4 L414.1,229.7 L408.6,230.9 L410.0,230.1 L415.9,227.5 L420.9,229.4 M410.3,233.0 L403.2,231.9 L401.0,233.5 L405.5,234.4 L410.3,233.0 M295.5,393.6 L297.8,397.2 L300.1,397.2 L300.4,394.3 L298.0,393.2 L295.5,393.6 M300.1,399.8 L302.2,401.6 L306.1,400.2 L304.0,398.8 L300.1,399.8 M118.7,347.4 L120.1,352.3 L116.5,354.8 L114.0,350.2 L118.7,347.4" fill="none" stroke="#000" stroke-width="1.3" stroke-linejoin="round"/>
<path d="M377.2,609.4 L372.2,605.3 L366.9,601.1 L359.6,602.9 L352.8,603.3 L349.0,606.7 L341.6,602.8 L337.8,593.7 L342.8,590.5 L344.5,580.3 L339.6,575.9 L335.1,571.9 L330.4,569.4 L321.8,573.1 L312.0,568.7 L308.5,567.8 L299.4,562.1 L290.4,549.0 L287.6,543.7 L289.1,537.9 L291.7,530.5 L291.9,526.2 L287.9,522.2 L288.1,516.0 L289.6,507.1 L294.9,506.9 L298.5,509.0 L303.3,509.1 L310.2,509.0 L313.4,506.4 L312.8,502.8 L314.8,499.9 L320.6,501.1 L324.0,497.1 L331.3,496.4 L336.2,494.5 L337.3,497.1 L341.7,502.4 L340.6,505.3 L339.5,510.1 L345.3,513.0 L348.8,516.9 L350.2,522.7 L361.9,525.4 L372.0,530.2 L378.8,527.8 L387.9,525.1 L390.1,523.3 L397.5,516.9 L402.7,512.1 L408.1,511.0 L405.4,509.0 L400.7,508.6 L397.8,507.5 L399.6,501.2 L402.3,502.2 L405.6,499.0 L406.5,488.7 L411.1,487.0 L415.7,488.9 L422.8,496.6 L430.8,497.0 L435.7,499.5 L439.5,495.6 L440.8,507.4 L437.6,508.0 L436.5,509.9 L438.3,516.0 L437.4,517.9 L434.3,520.1 L432.7,523.6 L427.7,525.5 L424.8,531.5 M293.7,527.3 L298.0,529.0 L303.2,532.3 L309.6,533.0 L314.8,536.2 L320.9,537.2 L327.5,540.9 L332.0,537.0 L337.1,535.5 L343.5,533.9 L348.8,531.2 L350.8,527.2 L350.2,522.7 M327.5,540.9 L330.5,546.3 L335.7,550.7 L341.5,553.4 L345.7,556.4 L348.1,560.8 L347.5,570.7 L345.3,576.3 M348.8,531.2 L353.5,534.1 L356.8,539.5 L360.8,542.0 L363.1,546.1 L363.0,551.7 L358.8,554.9 L360.5,559.0 L356.1,562.3 L348.1,560.8 M350.8,527.2 L357.7,534.1 L362.7,538.6 L368.0,542.2 L375.5,538.0 L376.8,539.9 L381.0,542.7 L385.3,538.3 L388.7,538.3 L389.4,534.7 L392.2,535.3 L396.2,533.3 L399.9,529.7 L404.9,527.0 L409.0,527.5 L413.5,523.1 L415.7,520.9 L415.8,515.5 L418.2,509.6 L414.0,507.0 L410.0,499.2 L411.3,490.4 M415.4,513.8 L418.9,512.6 L423.9,512.3 L429.1,512.6 L433.8,512.4 L437.1,512.7 M415.9,524.4 L419.6,520.7 L424.1,522.5 L427.4,524.5 L426.2,527.4 M396.2,533.3 L396.6,539.8 L396.3,547.2 L397.3,549.7 L401.9,550.4 L404.3,544.6 L406.8,541.3 L407.8,537.9 M388.7,538.3 L386.7,543.8 L386.8,551.2 L385.9,556.5 M376.8,539.9 L378.0,545.5 L380.8,551.2 L374.5,554.7 L372.5,561.0 L372.4,562.9 L378.7,565.6 L385.3,564.5 L388.5,560.7 L386.9,556.5 M368.0,542.2 L369.0,546.7 L373.2,550.8 L374.5,554.7 M386.9,556.5 L389.9,553.8 L394.3,549.9 L398.8,549.6 L402.0,551.2 L404.0,555.9 L403.0,561.8 L401.8,566.9 L398.6,567.6 L393.5,564.8 L388.5,560.7 M404.0,555.9 L408.5,554.2 L411.5,553.1 L414.2,552.6 M405.6,555.7 L407.4,557.4 L412.3,558.7 L412.9,562.5 L415.1,566.1 L417.0,567.0 M401.8,566.9 L405.8,573.3 L409.5,574.8 L414.6,574.1 L417.4,569.7 L418.6,566.7 M380.4,566.4 L385.3,570.4 L383.6,576.3 L388.7,575.1 L395.7,576.0 L399.2,576.6 L405.9,574.0 M372.3,564.1 L373.4,572.0 L369.7,576.5 L371.1,581.0 L374.8,578.8 L381.7,582.3 L383.5,588.4 L377.8,592.4 L370.1,595.4 L366.4,593.8 L363.5,585.3 L365.5,583.4 L369.4,579.7 M345.1,577.1 L349.8,579.2 L352.7,583.8 L357.8,586.6 L359.6,586.9 L363.5,585.3 M366.9,601.1 L364.1,597.8 L368.1,596.1 L370.1,595.4 M384.5,609.6 L391.3,605.2 L390.3,598.8 L392.9,595.4 L390.9,592.1 L387.2,590.5 L383.5,588.4 M387.2,590.5 L392.8,593.3 L398.5,593.0 L400.0,587.9 L399.6,581.8 L398.1,575.9 M398.5,593.0 L400.4,594.1 L406.3,595.7 L409.8,593.3 L409.2,587.9 L412.3,582.6 L415.4,578.9 L423.2,582.1 M410.1,595.3 L412.4,598.9 M415.4,578.9 L414.6,574.1 M383.6,576.3 L381.7,582.3 M358.8,554.9 L363.2,557.4 L367.6,561.8 L372.5,561.0 M360.5,559.0 L365.8,563.5 L370.7,563.2 L372.3,564.1 M347.5,570.7 L354.9,570.0 L360.9,576.8 L364.0,580.0 L369.4,579.7" fill="none" stroke="#222" stroke-width="0.75"/>
<g fill="none" stroke="#000" stroke-width="1.4" stroke-dasharray="4.2 5.2"><circle cx="385.3" cy="377.8" r="261.20"/><circle cx="385.3" cy="377.8" r="196.53"/><circle cx="385.3" cy="377.8" r="141.00"/><circle cx="385.3" cy="377.8" r="91.21"/><circle cx="385.3" cy="377.8" r="44.81"/><line x1="705.17" y1="494.22" x2="385.30" y2="377.80"/><line x1="720.53" y1="318.69" x2="429.43" y2="370.02"/><line x1="646.06" y1="159.00" x2="419.63" y2="348.99"/><line x1="501.72" y1="57.93" x2="385.30" y2="377.80"/><line x1="326.19" y1="42.57" x2="377.52" y2="333.67"/><line x1="166.50" y1="117.04" x2="356.49" y2="343.47"/><line x1="65.43" y1="261.38" x2="385.30" y2="377.80"/><line x1="50.07" y1="436.91" x2="341.17" y2="385.58"/><line x1="124.54" y1="596.60" x2="350.97" y2="406.61"/><line x1="268.88" y1="697.67" x2="385.30" y2="377.80"/><line x1="444.41" y1="713.03" x2="393.08" y2="421.93"/><line x1="604.10" y1="638.56" x2="414.11" y2="412.13"/></g>
</g>
<circle cx="385.3" cy="377.8" r="340.4" fill="none" stroke="#222" stroke-width="0.9"/>
<circle cx="385.3" cy="377.8" r="340.4" fill="none" stroke="#000" stroke-width="1.5" stroke-dasharray="4.2 5.2"/>
<rect x="2.4" y="18.1" width="781.9" height="718.9" fill="none" stroke="#000" stroke-width="2.8"/>
<g font-family="Liberation Sans, Arial, Helvetica, sans-serif" font-size="18.6" fill="#000">
<text x="284.8" y="36.2" textLength="39.6" lengthAdjust="spacingAndGlyphs">60W</text>
<text x="504.5" y="51.9" textLength="39.7" lengthAdjust="spacingAndGlyphs">90W</text>
<text x="118.7" y="113.2" textLength="39.3" lengthAdjust="spacingAndGlyphs">30W</text>
<text x="42.3" y="263.6" textLength="10.6" lengthAdjust="spacingAndGlyphs">0</text>
<text x="653.6" y="157.8" textLength="50.4" lengthAdjust="spacingAndGlyphs">120W</text>
<text x="731.2" y="322.7" textLength="49.4" lengthAdjust="spacingAndGlyphs">150W</text>
<text x="3.4" y="445.9" textLength="33.9" lengthAdjust="spacingAndGlyphs">30E</text>
<text x="716.3" y="505.3" textLength="30.7" lengthAdjust="spacingAndGlyphs">180</text>
<text x="80.9" y="612.7" textLength="33.9" lengthAdjust="spacingAndGlyphs">60E</text>
<text x="610.7" y="656.3" textLength="43.2" lengthAdjust="spacingAndGlyphs">150E</text>
<text x="230.7" y="718.2" textLength="34.0" lengthAdjust="spacingAndGlyphs">90E</text>
<text x="444.7" y="733.9" textLength="43.1" lengthAdjust="spacingAndGlyphs">120E</text>
</g>
<g font-family="Liberation Sans, Arial, Helvetica, sans-serif" font-size="8" fill="#000"><text x="379.8" y="380.3" font-size="8.6">NP</text><text x="337.3" y="364.6" font-size="8.6">GM</text><text x="421.3" y="396.2" font-size="8.6">ID</text><text x="379.5" y="722" font-size="7.5">EQ</text></g>
<g font-family="Liberation Sans, Arial, Helvetica, sans-serif" fill="#000">
<text x="0.8" y="13.8" font-size="16.3" textLength="112.4" lengthAdjust="spacingAndGlyphs">850 hPa TEMP</text>
<text x="118.4" y="13.8" font-size="16.3" textLength="6.1" lengthAdjust="spacingAndGlyphs">(</text>
<text x="122.9" y="7.4" font-size="10">o</text>
<text x="132.3" y="13.8" font-size="16.3" textLength="18.0" lengthAdjust="spacingAndGlyphs">C)</text>
<text x="154.2" y="13.8" font-size="16.3" textLength="58.1" lengthAdjust="spacingAndGlyphs">shadow</text>
<text x="708.3" y="16.4" font-size="16.3" textLength="76.4" lengthAdjust="spacingAndGlyphs">CMA-GFS</text>
<text x="1.0" y="751.9" font-size="16.3" textLength="138.7" lengthAdjust="spacingAndGlyphs">2025071400 + 03h</text>
<text x="1.0" y="769.9" font-size="16.3" textLength="138.7" lengthAdjust="spacingAndGlyphs">2025071408 + 03h</text>
<text x="647.5" y="751.9" font-size="16.3" textLength="137.7" lengthAdjust="spacingAndGlyphs">2025071403(UTC)</text>
<text x="647.5" y="769.9" font-size="16.3" textLength="137.2" lengthAdjust="spacingAndGlyphs">2025071411(CST)</text>
</g>
<rect x="809.3" y="28.40" width="15.2" height="31.75" fill="#FF5000" stroke="#000" stroke-width="1"/><rect x="809.3" y="60.15" width="15.2" height="31.75" fill="#FF8000" stroke="#000" stroke-width="1"/><rect x="809.3" y="91.90" width="15.2" height="31.75" fill="#FFAD00" stroke="#000" stroke-width="1"/><rect x="809.3" y="123.65" width="15.2" height="31.75" fill="#FFE400" stroke="#000" stroke-width="1"/><rect x="809.3" y="155.40" width="15.2" height="31.75" fill="#F2FF00" stroke="#000" stroke-width="1"/><rect x="809.3" y="187.15" width="15.2" height="31.75" fill="#BCFF00" stroke="#000" stroke-width="1"/><rect x="809.3" y="218.90" width="15.2" height="31.75" fill="#88FF00" stroke="#000" stroke-width="1"/><rect x="809.3" y="250.65" width="15.2" height="31.75" fill="#55FF00" stroke="#000" stroke-width="1"/><rect x="809.3" y="282.40" width="15.2" height="31.75" fill="#2BFF00" stroke="#000" stroke-width="1"/><rect x="809.3" y="314.15" width="15.2" height="31.75" fill="#00FF15" stroke="#000" stroke-width="1"/><rect x="809.3" y="345.90" width="15.2" height="31.75" fill="#00FF3A" stroke="#000" stroke-width="1"/><rect x="809.3" y="377.65" width="15.2" height="31.75" fill="#00FF6A" stroke="#000" stroke-width="1"/><rect x="809.3" y="409.40" width="15.2" height="31.75" fill="#00FF9C" stroke="#000" stroke-width="1"/><rect x="809.3" y="441.15" width="15.2" height="31.75" fill="#00FFCF" stroke="#000" stroke-width="1"/><rect x="809.3" y="472.90" width="15.2" height="31.75" fill="#00FFFF" stroke="#000" stroke-width="1"/><rect x="809.3" y="504.65" width="15.2" height="31.75" fill="#00C8FF" stroke="#000" stroke-width="1"/><rect x="809.3" y="536.40" width="15.2" height="31.75" fill="#009BFF" stroke="#000" stroke-width="1"/><rect x="809.3" y="568.15" width="15.2" height="31.75" fill="#006AFF" stroke="#000" stroke-width="1"/><rect x="809.3" y="599.90" width="15.2" height="31.75" fill="#0030FF" stroke="#000" stroke-width="1"/><rect x="809.3" y="631.65" width="15.2" height="31.75" fill="#0000FF" stroke="#000" stroke-width="1"/><rect x="809.3" y="663.40" width="15.2" height="31.75" fill="#2200EE" stroke="#000" stroke-width="1"/><rect x="809.3" y="695.15" width="15.2" height="31.75" fill="#4600C0" stroke="#000" stroke-width="1"/>
<g font-family="Liberation Sans, Arial, Helvetica, sans-serif" font-size="23.4" fill="#000" text-anchor="middle">
<text x="844.2" y="68.5">24</text>
<text x="844.2" y="100.2">22</text>
<text x="844.2" y="132.0">20</text>
<text x="844.2" y="163.7">18</text>
<text x="844.2" y="195.5">16</text>
<text x="844.2" y="227.2">14</text>
<text x="844.2" y="258.9">12</text>
<text x="844.2" y="290.7">10</text>
<text x="844.2" y="322.4">8</text>
<text x="844.2" y="354.2">6</text>
<text x="844.2" y="385.9">4</text>
<text x="844.2" y="417.7">2</text>
<text x="844.2" y="449.4">0</text>
<text x="844.2" y="481.2">-2</text>
<text x="844.2" y="512.9">-4</text>
<text x="844.2" y="544.7">-6</text>
<text x="844.2" y="576.4">-8</text>
<text x="844.2" y="608.2">-10</text>
<text x="844.2" y="639.9">-12</text>
<text x="844.2" y="671.7">-14</text>
<text x="844.2" y="703.4">-16</text>
</g>
</svg></body></html>
